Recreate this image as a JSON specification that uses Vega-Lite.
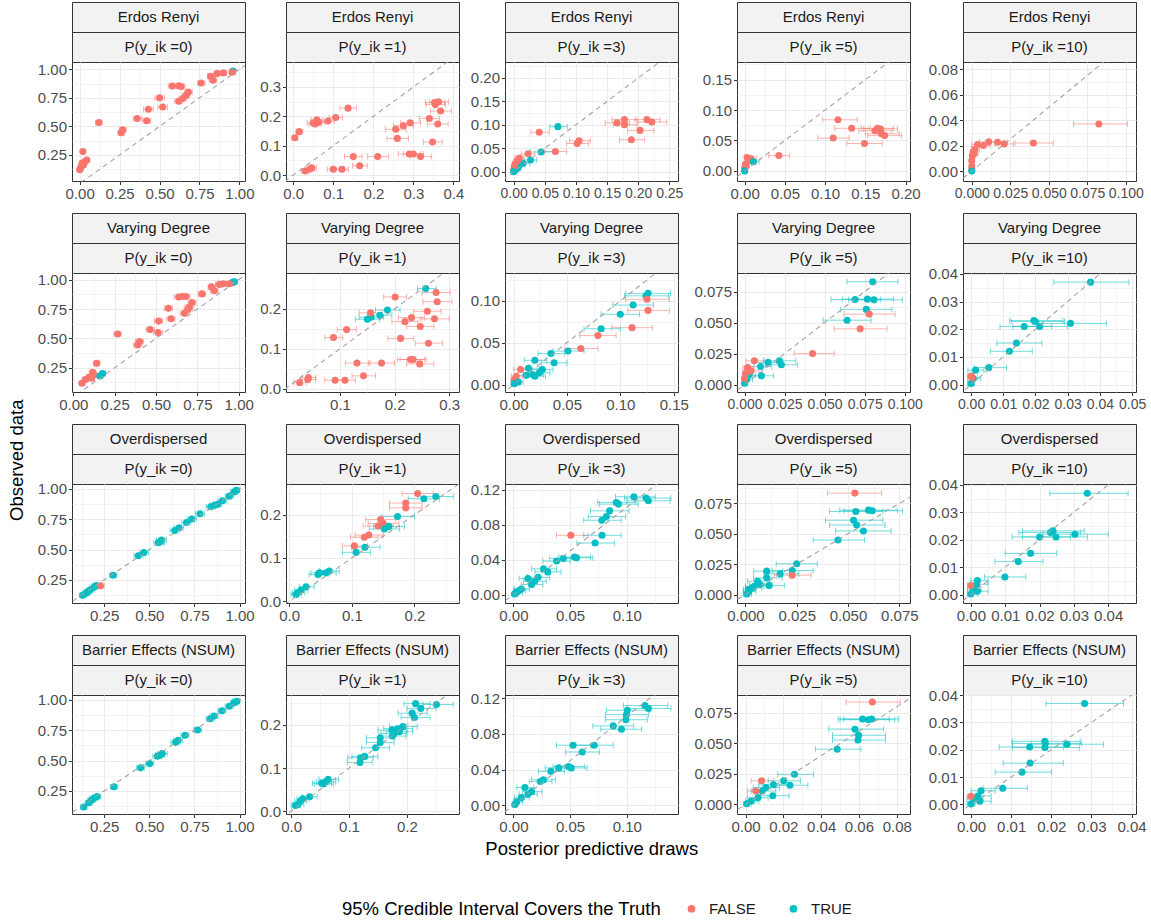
{
"$schema":"https://vega.github.io/schema/vega-lite/v6.json",
"padding":{"left":8,"top":1,"right":0,"bottom":4},
"datasets":{"d":[
{"p":"ER0","x":0.96,"l":0.945,"h":0.975,"y":0.985,"c":"TRUE"},
{"p":"ER0","x":0.955,"l":0.935,"h":0.975,"y":0.975,"c":"FALSE"},
{"p":"ER0","x":0.90,"l":0.88,"h":0.92,"y":0.968,"c":"FALSE"},
{"p":"ER0","x":0.86,"l":0.84,"h":0.885,"y":0.963,"c":"FALSE"},
{"p":"ER0","x":0.82,"l":0.80,"h":0.85,"y":0.94,"c":"FALSE"},
{"p":"ER0","x":0.835,"l":0.81,"h":0.86,"y":0.905,"c":"FALSE"},
{"p":"ER0","x":0.76,"l":0.74,"h":0.785,"y":0.88,"c":"FALSE"},
{"p":"ER0","x":0.58,"l":0.555,"h":0.61,"y":0.853,"c":"FALSE"},
{"p":"ER0","x":0.62,"l":0.595,"h":0.645,"y":0.855,"c":"FALSE"},
{"p":"ER0","x":0.635,"l":0.61,"h":0.66,"y":0.85,"c":"FALSE"},
{"p":"ER0","x":0.68,"l":0.655,"h":0.705,"y":0.80,"c":"FALSE"},
{"p":"ER0","x":0.665,"l":0.64,"h":0.69,"y":0.77,"c":"FALSE"},
{"p":"ER0","x":0.645,"l":0.62,"h":0.67,"y":0.745,"c":"FALSE"},
{"p":"ER0","x":0.62,"l":0.595,"h":0.645,"y":0.72,"c":"FALSE"},
{"p":"ER0","x":0.50,"l":0.47,"h":0.53,"y":0.75,"c":"FALSE"},
{"p":"ER0","x":0.52,"l":0.49,"h":0.55,"y":0.67,"c":"FALSE"},
{"p":"ER0","x":0.43,"l":0.40,"h":0.46,"y":0.65,"c":"FALSE"},
{"p":"ER0","x":0.36,"l":0.335,"h":0.39,"y":0.57,"c":"FALSE"},
{"p":"ER0","x":0.42,"l":0.395,"h":0.445,"y":0.55,"c":"FALSE"},
{"p":"ER0","x":0.12,"l":0.10,"h":0.14,"y":0.535,"c":"FALSE"},
{"p":"ER0","x":0.27,"l":0.25,"h":0.29,"y":0.47,"c":"FALSE"},
{"p":"ER0","x":0.26,"l":0.24,"h":0.28,"y":0.445,"c":"FALSE"},
{"p":"ER0","x":0.02,"l":0.01,"h":0.03,"y":0.28,"c":"FALSE"},
{"p":"ER0","x":0.045,"l":0.035,"h":0.055,"y":0.205,"c":"FALSE"},
{"p":"ER0","x":0.035,"l":0.025,"h":0.045,"y":0.195,"c":"FALSE"},
{"p":"ER0","x":0.015,"l":0.005,"h":0.025,"y":0.18,"c":"FALSE"},
{"p":"ER0","x":0.025,"l":0.015,"h":0.035,"y":0.165,"c":"FALSE"},
{"p":"ER0","x":0.01,"l":0.0,"h":0.02,"y":0.15,"c":"FALSE"},
{"p":"ER0","x":0.005,"l":-0.005,"h":0.015,"y":0.13,"c":"FALSE"},
{"p":"ER0","x":0.0,"l":-0.005,"h":0.01,"y":0.12,"c":"FALSE"},
{"p":"ER1","x":0.004,"l":-0.003,"h":0.011,"y":0.127,"c":"FALSE"},
{"p":"ER1","x":0.015,"l":0.007,"h":0.024,"y":0.148,"c":"FALSE"},
{"p":"ER1","x":0.137,"l":0.117,"h":0.158,"y":0.228,"c":"FALSE"},
{"p":"ER1","x":0.05,"l":0.035,"h":0.066,"y":0.177,"c":"FALSE"},
{"p":"ER1","x":0.059,"l":0.044,"h":0.075,"y":0.188,"c":"FALSE"},
{"p":"ER1","x":0.063,"l":0.047,"h":0.079,"y":0.18,"c":"FALSE"},
{"p":"ER1","x":0.087,"l":0.072,"h":0.103,"y":0.184,"c":"FALSE"},
{"p":"ER1","x":0.106,"l":0.09,"h":0.123,"y":0.196,"c":"FALSE"},
{"p":"ER1","x":0.055,"l":0.04,"h":0.07,"y":0.174,"c":"FALSE"},
{"p":"ER1","x":0.03,"l":0.02,"h":0.04,"y":0.014,"c":"FALSE"},
{"p":"ER1","x":0.046,"l":0.034,"h":0.058,"y":0.025,"c":"FALSE"},
{"p":"ER1","x":0.042,"l":0.03,"h":0.054,"y":0.021,"c":"FALSE"},
{"p":"ER1","x":0.10,"l":0.085,"h":0.115,"y":0.02,"c":"FALSE"},
{"p":"ER1","x":0.122,"l":0.107,"h":0.138,"y":0.02,"c":"FALSE"},
{"p":"ER1","x":0.15,"l":0.128,"h":0.172,"y":0.063,"c":"FALSE"},
{"p":"ER1","x":0.166,"l":0.148,"h":0.185,"y":0.032,"c":"FALSE"},
{"p":"ER1","x":0.211,"l":0.185,"h":0.238,"y":0.063,"c":"FALSE"},
{"p":"ER1","x":0.256,"l":0.23,"h":0.282,"y":0.156,"c":"FALSE"},
{"p":"ER1","x":0.275,"l":0.25,"h":0.30,"y":0.168,"c":"FALSE"},
{"p":"ER1","x":0.292,"l":0.268,"h":0.318,"y":0.178,"c":"FALSE"},
{"p":"ER1","x":0.26,"l":0.234,"h":0.288,"y":0.125,"c":"FALSE"},
{"p":"ER1","x":0.29,"l":0.262,"h":0.318,"y":0.072,"c":"FALSE"},
{"p":"ER1","x":0.30,"l":0.275,"h":0.325,"y":0.072,"c":"FALSE"},
{"p":"ER1","x":0.318,"l":0.292,"h":0.345,"y":0.063,"c":"FALSE"},
{"p":"ER1","x":0.348,"l":0.325,"h":0.372,"y":0.113,"c":"FALSE"},
{"p":"ER1","x":0.34,"l":0.315,"h":0.365,"y":0.193,"c":"FALSE"},
{"p":"ER1","x":0.361,"l":0.335,"h":0.387,"y":0.174,"c":"FALSE"},
{"p":"ER1","x":0.368,"l":0.343,"h":0.395,"y":0.218,"c":"FALSE"},
{"p":"ER1","x":0.353,"l":0.33,"h":0.378,"y":0.247,"c":"FALSE"},
{"p":"ER1","x":0.363,"l":0.34,"h":0.388,"y":0.25,"c":"FALSE"},
{"p":"ER1","x":0.355,"l":0.332,"h":0.38,"y":0.24,"c":"FALSE"},
{"p":"ER3","x":0.041,"l":0.028,"h":0.057,"y":0.084,"c":"FALSE"},
{"p":"ER3","x":0.071,"l":0.058,"h":0.086,"y":0.096,"c":"TRUE"},
{"p":"ER3","x":0.166,"l":0.147,"h":0.186,"y":0.104,"c":"FALSE"},
{"p":"ER3","x":0.178,"l":0.158,"h":0.198,"y":0.111,"c":"FALSE"},
{"p":"ER3","x":0.178,"l":0.16,"h":0.198,"y":0.10,"c":"FALSE"},
{"p":"ER3","x":0.214,"l":0.195,"h":0.235,"y":0.111,"c":"FALSE"},
{"p":"ER3","x":0.222,"l":0.20,"h":0.246,"y":0.106,"c":"FALSE"},
{"p":"ER3","x":0.203,"l":0.183,"h":0.225,"y":0.088,"c":"FALSE"},
{"p":"ER3","x":0.189,"l":0.17,"h":0.21,"y":0.068,"c":"FALSE"},
{"p":"ER3","x":0.102,"l":0.085,"h":0.12,"y":0.06,"c":"FALSE"},
{"p":"ER3","x":0.105,"l":0.09,"h":0.123,"y":0.066,"c":"FALSE"},
{"p":"ER3","x":0.067,"l":0.05,"h":0.085,"y":0.043,"c":"FALSE"},
{"p":"ER3","x":0.044,"l":0.027,"h":0.064,"y":0.042,"c":"TRUE"},
{"p":"ER3","x":0.023,"l":0.012,"h":0.034,"y":0.038,"c":"FALSE"},
{"p":"ER3","x":0.027,"l":0.017,"h":0.037,"y":0.025,"c":"TRUE"},
{"p":"ER3","x":0.015,"l":0.006,"h":0.026,"y":0.018,"c":"TRUE"},
{"p":"ER3","x":0.009,"l":0.002,"h":0.018,"y":0.013,"c":"TRUE"},
{"p":"ER3","x":0.002,"l":-0.002,"h":0.007,"y":0.004,"c":"TRUE"},
{"p":"ER3","x":0.006,"l":0.0,"h":0.012,"y":0.007,"c":"TRUE"},
{"p":"ER3","x":0.009,"l":0.002,"h":0.016,"y":0.029,"c":"FALSE"},
{"p":"ER3","x":0.006,"l":0.0,"h":0.012,"y":0.023,"c":"FALSE"},
{"p":"ER3","x":0.001,"l":-0.002,"h":0.005,"y":0.011,"c":"FALSE"},
{"p":"ER3","x":0.0,"l":-0.002,"h":0.003,"y":0.004,"c":"FALSE"},
{"p":"ER3","x":0.002,"l":-0.001,"h":0.006,"y":0.016,"c":"FALSE"},
{"p":"ER3","x":0.0,"l":-0.001,"h":0.002,"y":0.0,"c":"TRUE"},
{"p":"ER5","x":0.116,"l":0.097,"h":0.14,"y":0.084,"c":"FALSE"},
{"p":"ER5","x":0.133,"l":0.112,"h":0.156,"y":0.070,"c":"FALSE"},
{"p":"ER5","x":0.165,"l":0.145,"h":0.185,"y":0.070,"c":"FALSE"},
{"p":"ER5","x":0.169,"l":0.148,"h":0.19,"y":0.069,"c":"FALSE"},
{"p":"ER5","x":0.162,"l":0.142,"h":0.183,"y":0.066,"c":"FALSE"},
{"p":"ER5","x":0.170,"l":0.15,"h":0.192,"y":0.061,"c":"FALSE"},
{"p":"ER5","x":0.174,"l":0.153,"h":0.195,"y":0.058,"c":"FALSE"},
{"p":"ER5","x":0.11,"l":0.091,"h":0.13,"y":0.054,"c":"FALSE"},
{"p":"ER5","x":0.149,"l":0.127,"h":0.171,"y":0.045,"c":"FALSE"},
{"p":"ER5","x":0.0425,"l":0.03,"h":0.056,"y":0.0254,"c":"FALSE"},
{"p":"ER5","x":0.008,"l":0.002,"h":0.015,"y":0.02,"c":"FALSE"},
{"p":"ER5","x":0.003,"l":0.0,"h":0.008,"y":0.022,"c":"FALSE"},
{"p":"ER5","x":0.001,"l":-0.001,"h":0.004,"y":0.011,"c":"FALSE"},
{"p":"ER5","x":0.0,"l":-0.001,"h":0.002,"y":0.005,"c":"FALSE"},
{"p":"ER5","x":0.0055,"l":0.001,"h":0.01,"y":0.0166,"c":"FALSE"},
{"p":"ER5","x":0.002,"l":0.0,"h":0.005,"y":0.008,"c":"FALSE"},
{"p":"ER5","x":0.011,"l":0.004,"h":0.018,"y":0.015,"c":"TRUE"},
{"p":"ER5","x":0.0,"l":-0.001,"h":0.001,"y":0.0,"c":"TRUE"},
{"p":"ER10","x":0.0825,"l":0.066,"h":0.101,"y":0.0369,"c":"FALSE"},
{"p":"ER10","x":0.040,"l":0.028,"h":0.053,"y":0.022,"c":"FALSE"},
{"p":"ER10","x":0.0075,"l":0.003,"h":0.012,"y":0.020,"c":"FALSE"},
{"p":"ER10","x":0.011,"l":0.005,"h":0.017,"y":0.023,"c":"FALSE"},
{"p":"ER10","x":0.0167,"l":0.011,"h":0.023,"y":0.0226,"c":"FALSE"},
{"p":"ER10","x":0.021,"l":0.015,"h":0.027,"y":0.0213,"c":"FALSE"},
{"p":"ER10","x":0.0037,"l":0.0,"h":0.008,"y":0.0208,"c":"FALSE"},
{"p":"ER10","x":0.0003,"l":-0.001,"h":0.002,"y":0.012,"c":"FALSE"},
{"p":"ER10","x":0.001,"l":-0.001,"h":0.003,"y":0.015,"c":"FALSE"},
{"p":"ER10","x":0.0015,"l":-0.0005,"h":0.004,"y":0.0135,"c":"FALSE"},
{"p":"ER10","x":0.002,"l":0.0,"h":0.005,"y":0.017,"c":"FALSE"},
{"p":"ER10","x":0.0,"l":-0.001,"h":0.001,"y":0.008,"c":"FALSE"},
{"p":"ER10","x":0.0,"l":-0.001,"h":0.001,"y":0.004,"c":"FALSE"},
{"p":"ER10","x":0.0,"l":-0.001,"h":0.001,"y":0.0013,"c":"FALSE"},
{"p":"ER10","x":0.0,"l":-0.001,"h":0.001,"y":0.0,"c":"TRUE"},
{"p":"VD0","x":0.974,"l":0.96,"h":0.99,"y":0.983,"c":"TRUE"},
{"p":"VD0","x":0.964,"l":0.95,"h":0.98,"y":0.977,"c":"TRUE"},
{"p":"VD0","x":0.944,"l":0.925,"h":0.96,"y":0.966,"c":"FALSE"},
{"p":"VD0","x":0.907,"l":0.885,"h":0.93,"y":0.966,"c":"FALSE"},
{"p":"VD0","x":0.883,"l":0.86,"h":0.905,"y":0.96,"c":"FALSE"},
{"p":"VD0","x":0.835,"l":0.815,"h":0.86,"y":0.94,"c":"FALSE"},
{"p":"VD0","x":0.853,"l":0.83,"h":0.875,"y":0.905,"c":"FALSE"},
{"p":"VD0","x":0.778,"l":0.755,"h":0.80,"y":0.879,"c":"FALSE"},
{"p":"VD0","x":0.637,"l":0.61,"h":0.665,"y":0.853,"c":"FALSE"},
{"p":"VD0","x":0.657,"l":0.63,"h":0.685,"y":0.856,"c":"FALSE"},
{"p":"VD0","x":0.681,"l":0.655,"h":0.705,"y":0.856,"c":"FALSE"},
{"p":"VD0","x":0.718,"l":0.695,"h":0.742,"y":0.805,"c":"FALSE"},
{"p":"VD0","x":0.70,"l":0.675,"h":0.725,"y":0.767,"c":"FALSE"},
{"p":"VD0","x":0.694,"l":0.67,"h":0.72,"y":0.747,"c":"FALSE"},
{"p":"VD0","x":0.671,"l":0.645,"h":0.695,"y":0.713,"c":"FALSE"},
{"p":"VD0","x":0.575,"l":0.55,"h":0.60,"y":0.756,"c":"FALSE"},
{"p":"VD0","x":0.591,"l":0.565,"h":0.615,"y":0.667,"c":"FALSE"},
{"p":"VD0","x":0.516,"l":0.49,"h":0.54,"y":0.647,"c":"FALSE"},
{"p":"VD0","x":0.464,"l":0.44,"h":0.49,"y":0.575,"c":"FALSE"},
{"p":"VD0","x":0.512,"l":0.485,"h":0.54,"y":0.549,"c":"FALSE"},
{"p":"VD0","x":0.268,"l":0.245,"h":0.29,"y":0.537,"c":"FALSE"},
{"p":"VD0","x":0.40,"l":0.375,"h":0.425,"y":0.474,"c":"FALSE"},
{"p":"VD0","x":0.389,"l":0.365,"h":0.415,"y":0.443,"c":"FALSE"},
{"p":"VD0","x":0.141,"l":0.125,"h":0.16,"y":0.287,"c":"FALSE"},
{"p":"VD0","x":0.117,"l":0.10,"h":0.135,"y":0.21,"c":"FALSE"},
{"p":"VD0","x":0.097,"l":0.08,"h":0.115,"y":0.17,"c":"FALSE"},
{"p":"VD0","x":0.073,"l":0.055,"h":0.09,"y":0.15,"c":"FALSE"},
{"p":"VD0","x":0.052,"l":0.04,"h":0.07,"y":0.118,"c":"FALSE"},
{"p":"VD0","x":0.125,"l":0.108,"h":0.142,"y":0.19,"c":"FALSE"},
{"p":"VD0","x":0.11,"l":0.095,"h":0.128,"y":0.16,"c":"FALSE"},
{"p":"VD0","x":0.177,"l":0.16,"h":0.195,"y":0.20,"c":"TRUE"},
{"p":"VD0","x":0.161,"l":0.145,"h":0.18,"y":0.18,"c":"TRUE"},
{"p":"VD1","x":0.257,"l":0.242,"h":0.276,"y":0.251,"c":"TRUE"},
{"p":"VD1","x":0.276,"l":0.25,"h":0.302,"y":0.241,"c":"FALSE"},
{"p":"VD1","x":0.278,"l":0.252,"h":0.305,"y":0.218,"c":"FALSE"},
{"p":"VD1","x":0.201,"l":0.18,"h":0.222,"y":0.23,"c":"FALSE"},
{"p":"VD1","x":0.26,"l":0.235,"h":0.285,"y":0.194,"c":"FALSE"},
{"p":"VD1","x":0.273,"l":0.248,"h":0.30,"y":0.175,"c":"FALSE"},
{"p":"VD1","x":0.231,"l":0.207,"h":0.255,"y":0.178,"c":"FALSE"},
{"p":"VD1","x":0.219,"l":0.195,"h":0.243,"y":0.168,"c":"FALSE"},
{"p":"VD1","x":0.247,"l":0.222,"h":0.272,"y":0.156,"c":"FALSE"},
{"p":"VD1","x":0.187,"l":0.165,"h":0.21,"y":0.197,"c":"TRUE"},
{"p":"VD1","x":0.173,"l":0.15,"h":0.195,"y":0.184,"c":"TRUE"},
{"p":"VD1","x":0.15,"l":0.128,"h":0.172,"y":0.174,"c":"TRUE"},
{"p":"VD1","x":0.157,"l":0.135,"h":0.18,"y":0.179,"c":"TRUE"},
{"p":"VD1","x":0.156,"l":0.135,"h":0.178,"y":0.19,"c":"FALSE"},
{"p":"VD1","x":0.112,"l":0.095,"h":0.13,"y":0.148,"c":"FALSE"},
{"p":"VD1","x":0.088,"l":0.072,"h":0.105,"y":0.128,"c":"FALSE"},
{"p":"VD1","x":0.211,"l":0.188,"h":0.235,"y":0.126,"c":"FALSE"},
{"p":"VD1","x":0.262,"l":0.238,"h":0.288,"y":0.114,"c":"FALSE"},
{"p":"VD1","x":0.131,"l":0.11,"h":0.155,"y":0.064,"c":"FALSE"},
{"p":"VD1","x":0.176,"l":0.152,"h":0.20,"y":0.064,"c":"FALSE"},
{"p":"VD1","x":0.229,"l":0.205,"h":0.255,"y":0.073,"c":"FALSE"},
{"p":"VD1","x":0.234,"l":0.21,"h":0.258,"y":0.073,"c":"FALSE"},
{"p":"VD1","x":0.246,"l":0.222,"h":0.272,"y":0.062,"c":"FALSE"},
{"p":"VD1","x":0.143,"l":0.122,"h":0.165,"y":0.032,"c":"FALSE"},
{"p":"VD1","x":0.109,"l":0.09,"h":0.128,"y":0.021,"c":"FALSE"},
{"p":"VD1","x":0.091,"l":0.072,"h":0.11,"y":0.021,"c":"FALSE"},
{"p":"VD1","x":0.041,"l":0.028,"h":0.055,"y":0.023,"c":"FALSE"},
{"p":"VD1","x":0.042,"l":0.03,"h":0.056,"y":0.028,"c":"FALSE"},
{"p":"VD1","x":0.026,"l":0.015,"h":0.038,"y":0.015,"c":"FALSE"},
{"p":"VD3","x":0.126,"l":0.105,"h":0.147,"y":0.109,"c":"TRUE"},
{"p":"VD3","x":0.124,"l":0.104,"h":0.145,"y":0.106,"c":"TRUE"},
{"p":"VD3","x":0.125,"l":0.105,"h":0.146,"y":0.102,"c":"FALSE"},
{"p":"VD3","x":0.112,"l":0.093,"h":0.131,"y":0.095,"c":"TRUE"},
{"p":"VD3","x":0.10,"l":0.082,"h":0.118,"y":0.084,"c":"TRUE"},
{"p":"VD3","x":0.126,"l":0.107,"h":0.146,"y":0.0886,"c":"FALSE"},
{"p":"VD3","x":0.082,"l":0.066,"h":0.10,"y":0.0667,"c":"TRUE"},
{"p":"VD3","x":0.111,"l":0.092,"h":0.13,"y":0.068,"c":"FALSE"},
{"p":"VD3","x":0.079,"l":0.062,"h":0.096,"y":0.0585,"c":"FALSE"},
{"p":"VD3","x":0.063,"l":0.048,"h":0.079,"y":0.043,"c":"FALSE"},
{"p":"VD3","x":0.051,"l":0.037,"h":0.066,"y":0.04,"c":"TRUE"},
{"p":"VD3","x":0.035,"l":0.023,"h":0.048,"y":0.037,"c":"TRUE"},
{"p":"VD3","x":0.038,"l":0.026,"h":0.05,"y":0.026,"c":"TRUE"},
{"p":"VD3","x":0.02,"l":0.01,"h":0.031,"y":0.029,"c":"TRUE"},
{"p":"VD3","x":0.014,"l":0.006,"h":0.024,"y":0.0195,"c":"TRUE"},
{"p":"VD3","x":0.018,"l":0.009,"h":0.028,"y":0.012,"c":"TRUE"},
{"p":"VD3","x":0.024,"l":0.014,"h":0.034,"y":0.014,"c":"TRUE"},
{"p":"VD3","x":0.027,"l":0.017,"h":0.037,"y":0.018,"c":"TRUE"},
{"p":"VD3","x":0.012,"l":0.004,"h":0.021,"y":0.011,"c":"TRUE"},
{"p":"VD3","x":0.02,"l":0.011,"h":0.03,"y":0.01,"c":"TRUE"},
{"p":"VD3","x":0.0066,"l":0.0,"h":0.014,"y":0.018,"c":"FALSE"},
{"p":"VD3","x":0.0025,"l":-0.002,"h":0.008,"y":0.01,"c":"FALSE"},
{"p":"VD3","x":0.0005,"l":-0.002,"h":0.004,"y":0.0053,"c":"FALSE"},
{"p":"VD3","x":0.0005,"l":-0.002,"h":0.003,"y":0.001,"c":"TRUE"},
{"p":"VD3","x":0.0045,"l":0.0,"h":0.009,"y":0.003,"c":"TRUE"},
{"p":"VD5","x":0.08,"l":0.064,"h":0.0958,"y":0.083,"c":"TRUE"},
{"p":"VD5","x":0.069,"l":0.054,"h":0.085,"y":0.0687,"c":"TRUE"},
{"p":"VD5","x":0.0767,"l":0.061,"h":0.093,"y":0.069,"c":"TRUE"},
{"p":"VD5","x":0.0808,"l":0.065,"h":0.0985,"y":0.0684,"c":"TRUE"},
{"p":"VD5","x":0.076,"l":0.06,"h":0.092,"y":0.0607,"c":"TRUE"},
{"p":"VD5","x":0.0778,"l":0.062,"h":0.094,"y":0.0569,"c":"FALSE"},
{"p":"VD5","x":0.064,"l":0.049,"h":0.079,"y":0.052,"c":"TRUE"},
{"p":"VD5","x":0.0722,"l":0.056,"h":0.089,"y":0.045,"c":"FALSE"},
{"p":"VD5","x":0.0425,"l":0.031,"h":0.056,"y":0.025,"c":"FALSE"},
{"p":"VD5","x":0.0217,"l":0.012,"h":0.032,"y":0.0192,"c":"TRUE"},
{"p":"VD5","x":0.023,"l":0.013,"h":0.033,"y":0.016,"c":"TRUE"},
{"p":"VD5","x":0.0147,"l":0.006,"h":0.024,"y":0.0179,"c":"TRUE"},
{"p":"VD5","x":0.01,"l":0.003,"h":0.017,"y":0.0146,"c":"TRUE"},
{"p":"VD5","x":0.0105,"l":0.003,"h":0.018,"y":0.0071,"c":"TRUE"},
{"p":"VD5","x":0.0061,"l":0.001,"h":0.012,"y":0.0192,"c":"FALSE"},
{"p":"VD5","x":0.0019,"l":-0.001,"h":0.006,"y":0.0137,"c":"FALSE"},
{"p":"VD5","x":0.0028,"l":0.0,"h":0.007,"y":0.0077,"c":"TRUE"},
{"p":"VD5","x":0.0,"l":-0.001,"h":0.002,"y":0.001,"c":"TRUE"},
{"p":"VD5","x":0.0014,"l":-0.001,"h":0.005,"y":0.0041,"c":"TRUE"},
{"p":"VD5","x":0.0006,"l":-0.001,"h":0.003,"y":0.009,"c":"FALSE"},
{"p":"VD5","x":0.0,"l":-0.001,"h":0.002,"y":0.005,"c":"FALSE"},
{"p":"VD5","x":0.004,"l":0.0,"h":0.009,"y":0.011,"c":"FALSE"},
{"p":"VD10","x":0.0371,"l":0.0257,"h":0.049,"y":0.037,"c":"TRUE"},
{"p":"VD10","x":0.0195,"l":0.012,"h":0.0285,"y":0.0231,"c":"TRUE"},
{"p":"VD10","x":0.0199,"l":0.0125,"h":0.029,"y":0.0228,"c":"TRUE"},
{"p":"VD10","x":0.0213,"l":0.013,"h":0.03,"y":0.021,"c":"TRUE"},
{"p":"VD10","x":0.0165,"l":0.009,"h":0.025,"y":0.021,"c":"TRUE"},
{"p":"VD10","x":0.0309,"l":0.021,"h":0.042,"y":0.0221,"c":"TRUE"},
{"p":"VD10","x":0.0141,"l":0.008,"h":0.022,"y":0.015,"c":"TRUE"},
{"p":"VD10","x":0.0119,"l":0.006,"h":0.019,"y":0.012,"c":"TRUE"},
{"p":"VD10","x":0.0055,"l":0.001,"h":0.011,"y":0.0061,"c":"TRUE"},
{"p":"VD10","x":0.0014,"l":-0.001,"h":0.004,"y":0.0052,"c":"TRUE"},
{"p":"VD10","x":0.0007,"l":-0.001,"h":0.003,"y":0.0022,"c":"TRUE"},
{"p":"VD10","x":0.0,"l":-0.001,"h":0.001,"y":0.0004,"c":"TRUE"},
{"p":"VD10","x":0.0,"l":-0.001,"h":0.001,"y":0.0031,"c":"FALSE"},
{"p":"VD10","x":0.0003,"l":-0.001,"h":0.002,"y":0.0025,"c":"FALSE"},
{"p":"OD0","x":0.131,"l":0.115,"h":0.15,"y":0.123,"c":"TRUE"},
{"p":"OD0","x":0.15,"l":0.13,"h":0.17,"y":0.14,"c":"TRUE"},
{"p":"OD0","x":0.16,"l":0.14,"h":0.18,"y":0.155,"c":"TRUE"},
{"p":"OD0","x":0.174,"l":0.155,"h":0.195,"y":0.169,"c":"TRUE"},
{"p":"OD0","x":0.193,"l":0.17,"h":0.215,"y":0.19,"c":"TRUE"},
{"p":"OD0","x":0.206,"l":0.185,"h":0.228,"y":0.204,"c":"TRUE"},
{"p":"OD0","x":0.23,"l":0.21,"h":0.25,"y":0.202,"c":"FALSE"},
{"p":"OD0","x":0.30,"l":0.28,"h":0.32,"y":0.288,"c":"TRUE"},
{"p":"OD0","x":0.439,"l":0.415,"h":0.465,"y":0.449,"c":"TRUE"},
{"p":"OD0","x":0.47,"l":0.445,"h":0.495,"y":0.475,"c":"TRUE"},
{"p":"OD0","x":0.55,"l":0.525,"h":0.58,"y":0.556,"c":"TRUE"},
{"p":"OD0","x":0.56,"l":0.535,"h":0.585,"y":0.565,"c":"TRUE"},
{"p":"OD0","x":0.567,"l":0.54,"h":0.595,"y":0.579,"c":"TRUE"},
{"p":"OD0","x":0.641,"l":0.615,"h":0.665,"y":0.657,"c":"TRUE"},
{"p":"OD0","x":0.665,"l":0.64,"h":0.69,"y":0.68,"c":"TRUE"},
{"p":"OD0","x":0.706,"l":0.68,"h":0.73,"y":0.723,"c":"TRUE"},
{"p":"OD0","x":0.735,"l":0.71,"h":0.76,"y":0.752,"c":"TRUE"},
{"p":"OD0","x":0.781,"l":0.755,"h":0.805,"y":0.795,"c":"TRUE"},
{"p":"OD0","x":0.84,"l":0.815,"h":0.865,"y":0.853,"c":"TRUE"},
{"p":"OD0","x":0.86,"l":0.835,"h":0.885,"y":0.865,"c":"TRUE"},
{"p":"OD0","x":0.878,"l":0.855,"h":0.90,"y":0.873,"c":"TRUE"},
{"p":"OD0","x":0.905,"l":0.88,"h":0.93,"y":0.902,"c":"TRUE"},
{"p":"OD0","x":0.943,"l":0.92,"h":0.965,"y":0.94,"c":"TRUE"},
{"p":"OD0","x":0.97,"l":0.95,"h":0.99,"y":0.974,"c":"TRUE"},
{"p":"OD0","x":0.983,"l":0.965,"h":1.0,"y":0.988,"c":"TRUE"},
{"p":"OD1","x":0.205,"l":0.18,"h":0.23,"y":0.249,"c":"FALSE"},
{"p":"OD1","x":0.234,"l":0.205,"h":0.262,"y":0.242,"c":"TRUE"},
{"p":"OD1","x":0.215,"l":0.19,"h":0.24,"y":0.237,"c":"TRUE"},
{"p":"OD1","x":0.186,"l":0.16,"h":0.212,"y":0.227,"c":"FALSE"},
{"p":"OD1","x":0.186,"l":0.16,"h":0.212,"y":0.216,"c":"FALSE"},
{"p":"OD1","x":0.173,"l":0.148,"h":0.20,"y":0.196,"c":"TRUE"},
{"p":"OD1","x":0.146,"l":0.122,"h":0.17,"y":0.189,"c":"FALSE"},
{"p":"OD1","x":0.150,"l":0.126,"h":0.175,"y":0.18,"c":"FALSE"},
{"p":"OD1","x":0.142,"l":0.118,"h":0.166,"y":0.174,"c":"FALSE"},
{"p":"OD1","x":0.159,"l":0.135,"h":0.184,"y":0.173,"c":"TRUE"},
{"p":"OD1","x":0.152,"l":0.128,"h":0.176,"y":0.167,"c":"TRUE"},
{"p":"OD1","x":0.127,"l":0.105,"h":0.15,"y":0.153,"c":"FALSE"},
{"p":"OD1","x":0.12,"l":0.098,"h":0.142,"y":0.148,"c":"FALSE"},
{"p":"OD1","x":0.104,"l":0.085,"h":0.125,"y":0.128,"c":"FALSE"},
{"p":"OD1","x":0.121,"l":0.10,"h":0.145,"y":0.125,"c":"TRUE"},
{"p":"OD1","x":0.107,"l":0.085,"h":0.13,"y":0.113,"c":"TRUE"},
{"p":"OD1","x":0.0486,"l":0.035,"h":0.065,"y":0.066,"c":"TRUE"},
{"p":"OD1","x":0.046,"l":0.032,"h":0.062,"y":0.062,"c":"TRUE"},
{"p":"OD1","x":0.064,"l":0.048,"h":0.08,"y":0.07,"c":"TRUE"},
{"p":"OD1","x":0.059,"l":0.044,"h":0.075,"y":0.066,"c":"TRUE"},
{"p":"OD1","x":0.0135,"l":0.005,"h":0.025,"y":0.0195,"c":"TRUE"},
{"p":"OD1","x":0.019,"l":0.009,"h":0.03,"y":0.026,"c":"TRUE"},
{"p":"OD1","x":0.027,"l":0.016,"h":0.04,"y":0.0335,"c":"TRUE"},
{"p":"OD1","x":0.011,"l":0.003,"h":0.02,"y":0.0156,"c":"TRUE"},
{"p":"OD3","x":0.1062,"l":0.09,"h":0.125,"y":0.112,"c":"TRUE"},
{"p":"OD3","x":0.117,"l":0.098,"h":0.139,"y":0.1105,"c":"TRUE"},
{"p":"OD3","x":0.119,"l":0.10,"h":0.138,"y":0.1074,"c":"TRUE"},
{"p":"OD3","x":0.0907,"l":0.074,"h":0.108,"y":0.1055,"c":"TRUE"},
{"p":"OD3","x":0.0926,"l":0.076,"h":0.11,"y":0.1036,"c":"TRUE"},
{"p":"OD3","x":0.0848,"l":0.068,"h":0.102,"y":0.0959,"c":"TRUE"},
{"p":"OD3","x":0.082,"l":0.066,"h":0.099,"y":0.0894,"c":"TRUE"},
{"p":"OD3","x":0.078,"l":0.062,"h":0.095,"y":0.0851,"c":"TRUE"},
{"p":"OD3","x":0.0506,"l":0.038,"h":0.066,"y":0.0679,"c":"FALSE"},
{"p":"OD3","x":0.0782,"l":0.062,"h":0.095,"y":0.0679,"c":"TRUE"},
{"p":"OD3","x":0.072,"l":0.056,"h":0.089,"y":0.059,"c":"TRUE"},
{"p":"OD3","x":0.0537,"l":0.04,"h":0.068,"y":0.043,"c":"TRUE"},
{"p":"OD3","x":0.0556,"l":0.042,"h":0.07,"y":0.0422,"c":"TRUE"},
{"p":"OD3","x":0.044,"l":0.032,"h":0.057,"y":0.0414,"c":"TRUE"},
{"p":"OD3","x":0.0381,"l":0.026,"h":0.05,"y":0.0384,"c":"TRUE"},
{"p":"OD3","x":0.0265,"l":0.016,"h":0.038,"y":0.0295,"c":"TRUE"},
{"p":"OD3","x":0.0303,"l":0.019,"h":0.042,"y":0.026,"c":"TRUE"},
{"p":"OD3","x":0.0218,"l":0.012,"h":0.032,"y":0.0199,"c":"TRUE"},
{"p":"OD3","x":0.0128,"l":0.005,"h":0.022,"y":0.0184,"c":"TRUE"},
{"p":"OD3","x":0.0187,"l":0.009,"h":0.029,"y":0.0153,"c":"TRUE"},
{"p":"OD3","x":0.016,"l":0.007,"h":0.026,"y":0.0115,"c":"TRUE"},
{"p":"OD3","x":0.007,"l":0.001,"h":0.014,"y":0.0065,"c":"TRUE"},
{"p":"OD3","x":0.003,"l":0.0,"h":0.008,"y":0.003,"c":"TRUE"},
{"p":"OD3","x":0.005,"l":0.0,"h":0.011,"y":0.0046,"c":"TRUE"},
{"p":"OD3","x":0.001,"l":-0.001,"h":0.004,"y":0.0008,"c":"TRUE"},
{"p":"OD5","x":0.0533,"l":0.04,"h":0.0664,"y":0.0835,"c":"FALSE"},
{"p":"OD5","x":0.0538,"l":0.041,"h":0.067,"y":0.0684,"c":"TRUE"},
{"p":"OD5","x":0.06,"l":0.046,"h":0.074,"y":0.0695,"c":"TRUE"},
{"p":"OD5","x":0.0618,"l":0.048,"h":0.0765,"y":0.069,"c":"TRUE"},
{"p":"OD5","x":0.0527,"l":0.039,"h":0.067,"y":0.0612,"c":"TRUE"},
{"p":"OD5","x":0.0542,"l":0.041,"h":0.068,"y":0.0573,"c":"TRUE"},
{"p":"OD5","x":0.0575,"l":0.044,"h":0.071,"y":0.0524,"c":"TRUE"},
{"p":"OD5","x":0.0451,"l":0.033,"h":0.058,"y":0.0449,"c":"TRUE"},
{"p":"OD5","x":0.025,"l":0.015,"h":0.035,"y":0.0254,"c":"TRUE"},
{"p":"OD5","x":0.0228,"l":0.013,"h":0.033,"y":0.0198,"c":"TRUE"},
{"p":"OD5","x":0.0228,"l":0.014,"h":0.032,"y":0.016,"c":"FALSE"},
{"p":"OD5","x":0.0169,"l":0.009,"h":0.026,"y":0.0171,"c":"TRUE"},
{"p":"OD5","x":0.0104,"l":0.004,"h":0.018,"y":0.0193,"c":"TRUE"},
{"p":"OD5","x":0.0104,"l":0.004,"h":0.018,"y":0.0138,"c":"TRUE"},
{"p":"OD5","x":0.0115,"l":0.005,"h":0.019,"y":0.0074,"c":"TRUE"},
{"p":"OD5","x":0.006,"l":0.001,"h":0.012,"y":0.011,"c":"TRUE"},
{"p":"OD5","x":0.0035,"l":0.0,"h":0.008,"y":0.0055,"c":"TRUE"},
{"p":"OD5","x":0.0017,"l":-0.001,"h":0.005,"y":0.0028,"c":"TRUE"},
{"p":"OD5","x":0.0007,"l":-0.001,"h":0.003,"y":0.0005,"c":"TRUE"},
{"p":"OD5","x":0.007,"l":0.002,"h":0.013,"y":0.0083,"c":"TRUE"},
{"p":"OD5","x":0.0043,"l":0.0,"h":0.009,"y":0.0069,"c":"TRUE"},
{"p":"OD5","x":0.0017,"l":-0.001,"h":0.005,"y":0.0044,"c":"TRUE"},
{"p":"OD10","x":0.0339,"l":0.023,"h":0.0458,"y":0.0369,"c":"TRUE"},
{"p":"OD10","x":0.0239,"l":0.015,"h":0.033,"y":0.0232,"c":"TRUE"},
{"p":"OD10","x":0.0232,"l":0.014,"h":0.032,"y":0.0226,"c":"TRUE"},
{"p":"OD10","x":0.0248,"l":0.015,"h":0.034,"y":0.021,"c":"TRUE"},
{"p":"OD10","x":0.02,"l":0.012,"h":0.029,"y":0.021,"c":"TRUE"},
{"p":"OD10","x":0.0303,"l":0.021,"h":0.04,"y":0.022,"c":"TRUE"},
{"p":"OD10","x":0.0174,"l":0.01,"h":0.025,"y":0.015,"c":"TRUE"},
{"p":"OD10","x":0.0138,"l":0.007,"h":0.021,"y":0.012,"c":"TRUE"},
{"p":"OD10","x":0.0099,"l":0.004,"h":0.016,"y":0.0064,"c":"TRUE"},
{"p":"OD10","x":0.0019,"l":0.0,"h":0.005,"y":0.0051,"c":"TRUE"},
{"p":"OD10","x":0.0017,"l":0.0,"h":0.005,"y":0.0037,"c":"TRUE"},
{"p":"OD10","x":0.0006,"l":-0.001,"h":0.003,"y":0.0018,"c":"TRUE"},
{"p":"OD10","x":0.0,"l":-0.001,"h":0.002,"y":0.0002,"c":"TRUE"},
{"p":"OD10","x":0.0019,"l":0.0,"h":0.005,"y":0.0012,"c":"TRUE"},
{"p":"OD10","x":0.0,"l":-0.001,"h":0.001,"y":0.0033,"c":"FALSE"},
{"p":"BE0","x":0.137,"l":0.12,"h":0.155,"y":0.117,"c":"TRUE"},
{"p":"BE0","x":0.165,"l":0.145,"h":0.185,"y":0.152,"c":"TRUE"},
{"p":"BE0","x":0.18,"l":0.16,"h":0.20,"y":0.175,"c":"TRUE"},
{"p":"BE0","x":0.193,"l":0.17,"h":0.215,"y":0.19,"c":"TRUE"},
{"p":"BE0","x":0.211,"l":0.19,"h":0.232,"y":0.204,"c":"TRUE"},
{"p":"BE0","x":0.304,"l":0.285,"h":0.325,"y":0.285,"c":"TRUE"},
{"p":"BE0","x":0.452,"l":0.43,"h":0.475,"y":0.44,"c":"TRUE"},
{"p":"BE0","x":0.502,"l":0.48,"h":0.525,"y":0.475,"c":"TRUE"},
{"p":"BE0","x":0.544,"l":0.52,"h":0.57,"y":0.535,"c":"TRUE"},
{"p":"BE0","x":0.56,"l":0.535,"h":0.585,"y":0.545,"c":"TRUE"},
{"p":"BE0","x":0.572,"l":0.545,"h":0.60,"y":0.558,"c":"TRUE"},
{"p":"BE0","x":0.646,"l":0.62,"h":0.67,"y":0.65,"c":"TRUE"},
{"p":"BE0","x":0.66,"l":0.635,"h":0.685,"y":0.668,"c":"TRUE"},
{"p":"BE0","x":0.698,"l":0.675,"h":0.72,"y":0.709,"c":"TRUE"},
{"p":"BE0","x":0.767,"l":0.745,"h":0.79,"y":0.752,"c":"TRUE"},
{"p":"BE0","x":0.837,"l":0.815,"h":0.86,"y":0.844,"c":"TRUE"},
{"p":"BE0","x":0.859,"l":0.835,"h":0.88,"y":0.867,"c":"TRUE"},
{"p":"BE0","x":0.902,"l":0.88,"h":0.925,"y":0.91,"c":"TRUE"},
{"p":"BE0","x":0.943,"l":0.92,"h":0.965,"y":0.948,"c":"TRUE"},
{"p":"BE0","x":0.97,"l":0.95,"h":0.99,"y":0.977,"c":"TRUE"},
{"p":"BE0","x":0.985,"l":0.965,"h":1.0,"y":0.988,"c":"TRUE"},
{"p":"BE1","x":0.215,"l":0.195,"h":0.24,"y":0.249,"c":"TRUE"},
{"p":"BE1","x":0.224,"l":0.20,"h":0.25,"y":0.238,"c":"TRUE"},
{"p":"BE1","x":0.251,"l":0.228,"h":0.28,"y":0.247,"c":"TRUE"},
{"p":"BE1","x":0.209,"l":0.185,"h":0.235,"y":0.227,"c":"TRUE"},
{"p":"BE1","x":0.213,"l":0.19,"h":0.24,"y":0.217,"c":"TRUE"},
{"p":"BE1","x":0.174,"l":0.15,"h":0.20,"y":0.188,"c":"TRUE"},
{"p":"BE1","x":0.184,"l":0.16,"h":0.21,"y":0.191,"c":"TRUE"},
{"p":"BE1","x":0.193,"l":0.17,"h":0.218,"y":0.196,"c":"TRUE"},
{"p":"BE1","x":0.178,"l":0.155,"h":0.20,"y":0.18,"c":"TRUE"},
{"p":"BE1","x":0.175,"l":0.152,"h":0.198,"y":0.174,"c":"TRUE"},
{"p":"BE1","x":0.187,"l":0.164,"h":0.21,"y":0.184,"c":"TRUE"},
{"p":"BE1","x":0.154,"l":0.13,"h":0.178,"y":0.17,"c":"TRUE"},
{"p":"BE1","x":0.154,"l":0.13,"h":0.178,"y":0.159,"c":"TRUE"},
{"p":"BE1","x":0.146,"l":0.122,"h":0.17,"y":0.147,"c":"TRUE"},
{"p":"BE1","x":0.127,"l":0.105,"h":0.15,"y":0.127,"c":"TRUE"},
{"p":"BE1","x":0.12,"l":0.098,"h":0.142,"y":0.124,"c":"TRUE"},
{"p":"BE1","x":0.119,"l":0.097,"h":0.14,"y":0.113,"c":"TRUE"},
{"p":"BE1","x":0.053,"l":0.037,"h":0.07,"y":0.065,"c":"TRUE"},
{"p":"BE1","x":0.06,"l":0.044,"h":0.077,"y":0.068,"c":"TRUE"},
{"p":"BE1","x":0.064,"l":0.048,"h":0.082,"y":0.074,"c":"TRUE"},
{"p":"BE1","x":0.056,"l":0.04,"h":0.073,"y":0.063,"c":"TRUE"},
{"p":"BE1","x":0.016,"l":0.006,"h":0.027,"y":0.0235,"c":"TRUE"},
{"p":"BE1","x":0.02,"l":0.01,"h":0.031,"y":0.029,"c":"TRUE"},
{"p":"BE1","x":0.032,"l":0.02,"h":0.045,"y":0.0337,"c":"TRUE"},
{"p":"BE1","x":0.012,"l":0.003,"h":0.022,"y":0.0157,"c":"TRUE"},
{"p":"BE1","x":0.0076,"l":0.0,"h":0.016,"y":0.0133,"c":"TRUE"},
{"p":"BE3","x":0.116,"l":0.097,"h":0.136,"y":0.112,"c":"TRUE"},
{"p":"BE3","x":0.119,"l":0.10,"h":0.139,"y":0.1086,"c":"TRUE"},
{"p":"BE3","x":0.1004,"l":0.082,"h":0.12,"y":0.1067,"c":"TRUE"},
{"p":"BE3","x":0.0996,"l":0.081,"h":0.119,"y":0.1017,"c":"TRUE"},
{"p":"BE3","x":0.0992,"l":0.081,"h":0.118,"y":0.096,"c":"TRUE"},
{"p":"BE3","x":0.088,"l":0.07,"h":0.106,"y":0.0891,"c":"TRUE"},
{"p":"BE3","x":0.0953,"l":0.077,"h":0.113,"y":0.0853,"c":"TRUE"},
{"p":"BE3","x":0.0525,"l":0.038,"h":0.068,"y":0.0674,"c":"TRUE"},
{"p":"BE3","x":0.0712,"l":0.055,"h":0.088,"y":0.0674,"c":"TRUE"},
{"p":"BE3","x":0.0607,"l":0.046,"h":0.076,"y":0.0598,"c":"TRUE"},
{"p":"BE3","x":0.0486,"l":0.035,"h":0.063,"y":0.0434,"c":"TRUE"},
{"p":"BE3","x":0.051,"l":0.037,"h":0.065,"y":0.0419,"c":"TRUE"},
{"p":"BE3","x":0.04,"l":0.028,"h":0.053,"y":0.0419,"c":"TRUE"},
{"p":"BE3","x":0.033,"l":0.022,"h":0.045,"y":0.038,"c":"TRUE"},
{"p":"BE3","x":0.0265,"l":0.016,"h":0.037,"y":0.0286,"c":"TRUE"},
{"p":"BE3","x":0.0237,"l":0.014,"h":0.034,"y":0.0267,"c":"TRUE"},
{"p":"BE3","x":0.0101,"l":0.003,"h":0.018,"y":0.0198,"c":"TRUE"},
{"p":"BE3","x":0.016,"l":0.008,"h":0.025,"y":0.0152,"c":"TRUE"},
{"p":"BE3","x":0.0128,"l":0.005,"h":0.021,"y":0.0122,"c":"TRUE"},
{"p":"BE3","x":0.007,"l":0.001,"h":0.014,"y":0.0084,"c":"TRUE"},
{"p":"BE3","x":0.003,"l":0.0,"h":0.008,"y":0.0038,"c":"TRUE"},
{"p":"BE3","x":0.0012,"l":-0.001,"h":0.004,"y":0.0008,"c":"TRUE"},
{"p":"BE5","x":0.0671,"l":0.0532,"h":0.0819,"y":0.0839,"c":"FALSE"},
{"p":"BE5","x":0.0619,"l":0.049,"h":0.076,"y":0.07,"c":"TRUE"},
{"p":"BE5","x":0.065,"l":0.05,"h":0.079,"y":0.0694,"c":"TRUE"},
{"p":"BE5","x":0.0668,"l":0.052,"h":0.081,"y":0.07,"c":"TRUE"},
{"p":"BE5","x":0.0579,"l":0.044,"h":0.073,"y":0.0617,"c":"TRUE"},
{"p":"BE5","x":0.0598,"l":0.046,"h":0.074,"y":0.0567,"c":"TRUE"},
{"p":"BE5","x":0.0595,"l":0.046,"h":0.074,"y":0.0528,"c":"TRUE"},
{"p":"BE5","x":0.0485,"l":0.037,"h":0.061,"y":0.0453,"c":"TRUE"},
{"p":"BE5","x":0.0259,"l":0.017,"h":0.036,"y":0.0247,"c":"TRUE"},
{"p":"BE5","x":0.0202,"l":0.012,"h":0.029,"y":0.0194,"c":"TRUE"},
{"p":"BE5","x":0.0235,"l":0.015,"h":0.033,"y":0.0158,"c":"TRUE"},
{"p":"BE5","x":0.0148,"l":0.007,"h":0.023,"y":0.0161,"c":"TRUE"},
{"p":"BE5","x":0.0144,"l":0.007,"h":0.023,"y":0.0072,"c":"TRUE"},
{"p":"BE5","x":0.0089,"l":0.003,"h":0.016,"y":0.011,"c":"TRUE"},
{"p":"BE5","x":0.0066,"l":0.001,"h":0.012,"y":0.0056,"c":"TRUE"},
{"p":"BE5","x":0.0031,"l":0.0,"h":0.007,"y":0.0028,"c":"TRUE"},
{"p":"BE5","x":0.0007,"l":-0.001,"h":0.003,"y":0.0006,"c":"TRUE"},
{"p":"BE5","x":0.0108,"l":0.004,"h":0.018,"y":0.0139,"c":"TRUE"},
{"p":"BE5","x":0.0085,"l":0.003,"h":0.015,"y":0.0194,"c":"FALSE"},
{"p":"BE5","x":0.0054,"l":0.001,"h":0.01,"y":0.011,"c":"FALSE"},
{"p":"BE10","x":0.0283,"l":0.0187,"h":0.038,"y":0.0369,"c":"TRUE"},
{"p":"BE10","x":0.0184,"l":0.0102,"h":0.0272,"y":0.0231,"c":"TRUE"},
{"p":"BE10","x":0.0185,"l":0.0103,"h":0.0275,"y":0.0223,"c":"TRUE"},
{"p":"BE10","x":0.0184,"l":0.0103,"h":0.027,"y":0.0208,"c":"TRUE"},
{"p":"BE10","x":0.0146,"l":0.007,"h":0.023,"y":0.021,"c":"TRUE"},
{"p":"BE10","x":0.0239,"l":0.015,"h":0.033,"y":0.022,"c":"TRUE"},
{"p":"BE10","x":0.0147,"l":0.008,"h":0.023,"y":0.0151,"c":"TRUE"},
{"p":"BE10","x":0.0127,"l":0.006,"h":0.02,"y":0.0118,"c":"TRUE"},
{"p":"BE10","x":0.0079,"l":0.003,"h":0.014,"y":0.0059,"c":"TRUE"},
{"p":"BE10","x":0.0025,"l":0.0,"h":0.006,"y":0.005,"c":"TRUE"},
{"p":"BE10","x":0.0017,"l":-0.0005,"h":0.005,"y":0.0031,"c":"TRUE"},
{"p":"BE10","x":0.0008,"l":-0.001,"h":0.003,"y":0.0019,"c":"TRUE"},
{"p":"BE10","x":0.0,"l":-0.001,"h":0.001,"y":0.0002,"c":"TRUE"},
{"p":"BE10","x":0.0022,"l":0.0,"h":0.005,"y":0.0012,"c":"TRUE"},
{"p":"BE10","x":0.0,"l":-0.001,"h":0.001,"y":0.003,"c":"FALSE"}
]},
"title":{"text":"Observed data","orient":"left","anchor":"middle","fontSize":18.5,"fontWeight":"normal","color":"#000000","offset":10},
"resolve":{"scale":{"x":"independent","y":"independent","color":"shared"},"legend":{"color":"shared"}},
"vconcat":[{
"title":{"text":"Posterior predictive draws","orient":"bottom","anchor":"middle","fontSize":18.5,"fontWeight":"normal","color":"#000000","offset":5},
"columns":5,
"spacing":{"row":10,"column":4},
"resolve":{"scale":{"x":"independent","y":"independent","color":"shared"},"legend":{"color":"shared"}},
"concat":[
{"spacing":0,"bounds":"flush","resolve":{"scale":{"x":"independent","y":"independent","color":"shared"},"legend":{"color":"shared"}},"vconcat":[
{"width":173,"height":30,"data":{"values":[{"t":"Erdos Renyi"}]},"mark":{"type":"text","fontSize":15,"color":"#1A1A1A","fontWeight":"normal"},"encoding":{"text":{"field":"t"}},"view":{"fill":"#F2F2F2","stroke":"#333333"}},
{"width":173,"height":30,"data":{"values":[{"t":"P(y_ik =0)"}]},"mark":{"type":"text","fontSize":15,"color":"#1A1A1A","fontWeight":"normal"},"encoding":{"text":{"field":"t"}},"view":{"fill":"#F2F2F2","stroke":"#333333"}},
{"width":173,"height":119,"data":{"name":"d"},"transform":[{"filter":"datum.p=='ER0'"}],"resolve":{"axis":{"x":"independent"}},
"encoding":{"y":{"field":"y","type":"quantitative","title":null,"scale":{"domain":[0.022,1.064],"nice":false,"zero":false},"axis":{"labelOverlap":false,"values":[0.125,0.25,0.375,0.5,0.625,0.75,0.875,1],"labelExpr":"abs(datum.value/0.25-round(datum.value/0.25))>0.01?'':format(datum.value,'.2f')","gridWidth":{"condition":{"test":"abs(datum.value/0.25-round(datum.value/0.25))>0.01","value":0.55},"value":1.1},"tickOpacity":{"condition":{"test":"abs(datum.value/0.25-round(datum.value/0.25))>0.01","value":0},"value":1}}}},
"layer":[
{"mark":{"type":"rule","opacity":0.55},"encoding":{"x":{"field":"l","type":"quantitative","title":null,"scale":{"domain":[-0.048,1.035],"nice":false,"zero":false},"axis":{"orient":"bottom","values":[0,0.25,0.5,0.75,1],"format":".2f","gridWidth":1.1,"labelOverlap":false}},"x2":{"field":"h"},"color":{"condition":{"test":"datum.c=='TRUE'","value":"#00BFC4"},"value":"#F8766D"}}},
{"transform":[{"fold":["l","h"],"as":["k","v"]}],"mark":{"type":"tick","orient":"vertical","size":6,"thickness":1,"opacity":0.55},"encoding":{"x":{"field":"v","type":"quantitative","title":null,"axis":null},"color":{"condition":{"test":"datum.c=='TRUE'","value":"#00BFC4"},"value":"#F8766D"}}},
{"mark":{"type":"point","filled":true,"opacity":1,"size":50},"encoding":{"x":{"field":"x","type":"quantitative","title":null,"axis":{"orient":"top","values":[0.125,0.375,0.625,0.875],"labels":false,"ticks":false,"domain":false,"grid":true,"gridWidth":0.55}},"color":{"field":"c","type":"nominal","title":"95% Credible Interval Covers the Truth","scale":{"domain":["FALSE","TRUE"]},"legend":{"orient":"none","legendX":270,"legendY":899,"direction":"horizontal","titleOrient":"left"}}}},
{"data":{"values":[{"p":"ER0","a":-1,"b":2}]},"mark":{"type":"rule","color":"#A3A3A3","strokeWidth":1.1,"strokeDash":[5,4],"clip":true},"encoding":{"x":{"field":"a","type":"quantitative","title":null,"axis":null},"y":{"field":"a","type":"quantitative","title":null},"x2":{"field":"b"},"y2":{"field":"b"}}}
]}]},
{"spacing":0,"bounds":"flush","resolve":{"scale":{"x":"independent","y":"independent","color":"shared"},"legend":{"color":"shared"}},"vconcat":[
{"width":173,"height":30,"data":{"values":[{"t":"Erdos Renyi"}]},"mark":{"type":"text","fontSize":15,"color":"#1A1A1A","fontWeight":"normal"},"encoding":{"text":{"field":"t"}},"view":{"fill":"#F2F2F2","stroke":"#333333"}},
{"width":173,"height":30,"data":{"values":[{"t":"P(y_ik =1)"}]},"mark":{"type":"text","fontSize":15,"color":"#1A1A1A","fontWeight":"normal"},"encoding":{"text":{"field":"t"}},"view":{"fill":"#F2F2F2","stroke":"#333333"}},
{"width":173,"height":119,"data":{"name":"d"},"transform":[{"filter":"datum.p=='ER1'"}],"resolve":{"axis":{"x":"independent"}},
"encoding":{"y":{"field":"y","type":"quantitative","title":null,"scale":{"domain":[-0.02,0.385],"nice":false,"zero":false},"axis":{"labelOverlap":false,"values":[0,0.05,0.1,0.15,0.2,0.25,0.3,0.35],"labelExpr":"abs(datum.value/0.1-round(datum.value/0.1))>0.01?'':format(datum.value,'.1f')","gridWidth":{"condition":{"test":"abs(datum.value/0.1-round(datum.value/0.1))>0.01","value":0.55},"value":1.1},"tickOpacity":{"condition":{"test":"abs(datum.value/0.1-round(datum.value/0.1))>0.01","value":0},"value":1}}}},
"layer":[
{"mark":{"type":"rule","opacity":0.55},"encoding":{"x":{"field":"l","type":"quantitative","title":null,"scale":{"domain":[-0.018,0.414],"nice":false,"zero":false},"axis":{"orient":"bottom","values":[0,0.1,0.2,0.3,0.4],"format":".1f","gridWidth":1.1,"labelOverlap":false}},"x2":{"field":"h"},"color":{"condition":{"test":"datum.c=='TRUE'","value":"#00BFC4"},"value":"#F8766D"}}},
{"transform":[{"fold":["l","h"],"as":["k","v"]}],"mark":{"type":"tick","orient":"vertical","size":6,"thickness":1,"opacity":0.55},"encoding":{"x":{"field":"v","type":"quantitative","title":null,"axis":null},"color":{"condition":{"test":"datum.c=='TRUE'","value":"#00BFC4"},"value":"#F8766D"}}},
{"mark":{"type":"point","filled":true,"opacity":1,"size":50},"encoding":{"x":{"field":"x","type":"quantitative","title":null,"axis":{"orient":"top","values":[0.05,0.15,0.25,0.35],"labels":false,"ticks":false,"domain":false,"grid":true,"gridWidth":0.55}},"color":{"field":"c","type":"nominal","title":"95% Credible Interval Covers the Truth","scale":{"domain":["FALSE","TRUE"]},"legend":{"orient":"none","legendX":270,"legendY":899,"direction":"horizontal","titleOrient":"left"}}}},
{"data":{"values":[{"p":"ER1","a":-1,"b":2}]},"mark":{"type":"rule","color":"#A3A3A3","strokeWidth":1.1,"strokeDash":[5,4],"clip":true},"encoding":{"x":{"field":"a","type":"quantitative","title":null,"axis":null},"y":{"field":"a","type":"quantitative","title":null},"x2":{"field":"b"},"y2":{"field":"b"}}}
]}]},
{"spacing":0,"bounds":"flush","resolve":{"scale":{"x":"independent","y":"independent","color":"shared"},"legend":{"color":"shared"}},"vconcat":[
{"width":173,"height":30,"data":{"values":[{"t":"Erdos Renyi"}]},"mark":{"type":"text","fontSize":15,"color":"#1A1A1A","fontWeight":"normal"},"encoding":{"text":{"field":"t"}},"view":{"fill":"#F2F2F2","stroke":"#333333"}},
{"width":173,"height":30,"data":{"values":[{"t":"P(y_ik =3)"}]},"mark":{"type":"text","fontSize":15,"color":"#1A1A1A","fontWeight":"normal"},"encoding":{"text":{"field":"t"}},"view":{"fill":"#F2F2F2","stroke":"#333333"}},
{"width":173,"height":119,"data":{"name":"d"},"transform":[{"filter":"datum.p=='ER3'"}],"resolve":{"axis":{"x":"independent"}},
"encoding":{"y":{"field":"y","type":"quantitative","title":null,"scale":{"domain":[-0.02,0.234],"nice":false,"zero":false},"axis":{"labelOverlap":false,"values":[0,0.025,0.05,0.075,0.1,0.125,0.15,0.175,0.2,0.225],"labelExpr":"abs(datum.value/0.05-round(datum.value/0.05))>0.01?'':format(datum.value,'.2f')","gridWidth":{"condition":{"test":"abs(datum.value/0.05-round(datum.value/0.05))>0.01","value":0.55},"value":1.1},"tickOpacity":{"condition":{"test":"abs(datum.value/0.05-round(datum.value/0.05))>0.01","value":0},"value":1}}}},
"layer":[
{"mark":{"type":"rule","opacity":0.55},"encoding":{"x":{"field":"l","type":"quantitative","title":null,"scale":{"domain":[-0.014,0.264],"nice":false,"zero":false},"axis":{"orient":"bottom","values":[0,0.05,0.1,0.15,0.2,0.25],"format":".2f","gridWidth":1.1,"labelOverlap":false,"labelFontSize":14}},"x2":{"field":"h"},"color":{"condition":{"test":"datum.c=='TRUE'","value":"#00BFC4"},"value":"#F8766D"}}},
{"transform":[{"fold":["l","h"],"as":["k","v"]}],"mark":{"type":"tick","orient":"vertical","size":6,"thickness":1,"opacity":0.55},"encoding":{"x":{"field":"v","type":"quantitative","title":null,"axis":null},"color":{"condition":{"test":"datum.c=='TRUE'","value":"#00BFC4"},"value":"#F8766D"}}},
{"mark":{"type":"point","filled":true,"opacity":1,"size":50},"encoding":{"x":{"field":"x","type":"quantitative","title":null,"axis":{"orient":"top","values":[0.025,0.075,0.125,0.175,0.225],"labels":false,"ticks":false,"domain":false,"grid":true,"gridWidth":0.55}},"color":{"field":"c","type":"nominal","title":"95% Credible Interval Covers the Truth","scale":{"domain":["FALSE","TRUE"]},"legend":{"orient":"none","legendX":270,"legendY":899,"direction":"horizontal","titleOrient":"left"}}}},
{"data":{"values":[{"p":"ER3","a":-1,"b":2}]},"mark":{"type":"rule","color":"#A3A3A3","strokeWidth":1.1,"strokeDash":[5,4],"clip":true},"encoding":{"x":{"field":"a","type":"quantitative","title":null,"axis":null},"y":{"field":"a","type":"quantitative","title":null},"x2":{"field":"b"},"y2":{"field":"b"}}}
]}]},
{"spacing":0,"bounds":"flush","resolve":{"scale":{"x":"independent","y":"independent","color":"shared"},"legend":{"color":"shared"}},"vconcat":[
{"width":173,"height":30,"data":{"values":[{"t":"Erdos Renyi"}]},"mark":{"type":"text","fontSize":15,"color":"#1A1A1A","fontWeight":"normal"},"encoding":{"text":{"field":"t"}},"view":{"fill":"#F2F2F2","stroke":"#333333"}},
{"width":173,"height":30,"data":{"values":[{"t":"P(y_ik =5)"}]},"mark":{"type":"text","fontSize":15,"color":"#1A1A1A","fontWeight":"normal"},"encoding":{"text":{"field":"t"}},"view":{"fill":"#F2F2F2","stroke":"#333333"}},
{"width":173,"height":119,"data":{"name":"d"},"transform":[{"filter":"datum.p=='ER5'"}],"resolve":{"axis":{"x":"independent"}},
"encoding":{"y":{"field":"y","type":"quantitative","title":null,"scale":{"domain":[-0.0166,0.179],"nice":false,"zero":false},"axis":{"labelOverlap":false,"values":[0,0.025,0.05,0.075,0.1,0.125,0.15,0.175],"labelExpr":"abs(datum.value/0.05-round(datum.value/0.05))>0.01?'':format(datum.value,'.2f')","gridWidth":{"condition":{"test":"abs(datum.value/0.05-round(datum.value/0.05))>0.01","value":0.55},"value":1.1},"tickOpacity":{"condition":{"test":"abs(datum.value/0.05-round(datum.value/0.05))>0.01","value":0},"value":1}}}},
"layer":[
{"mark":{"type":"rule","opacity":0.55},"encoding":{"x":{"field":"l","type":"quantitative","title":null,"scale":{"domain":[-0.0095,0.2055],"nice":false,"zero":false},"axis":{"orient":"bottom","values":[0,0.05,0.1,0.15,0.2],"format":".2f","gridWidth":1.1,"labelOverlap":false}},"x2":{"field":"h"},"color":{"condition":{"test":"datum.c=='TRUE'","value":"#00BFC4"},"value":"#F8766D"}}},
{"transform":[{"fold":["l","h"],"as":["k","v"]}],"mark":{"type":"tick","orient":"vertical","size":6,"thickness":1,"opacity":0.55},"encoding":{"x":{"field":"v","type":"quantitative","title":null,"axis":null},"color":{"condition":{"test":"datum.c=='TRUE'","value":"#00BFC4"},"value":"#F8766D"}}},
{"mark":{"type":"point","filled":true,"opacity":1,"size":50},"encoding":{"x":{"field":"x","type":"quantitative","title":null,"axis":{"orient":"top","values":[0.025,0.075,0.125,0.175],"labels":false,"ticks":false,"domain":false,"grid":true,"gridWidth":0.55}},"color":{"field":"c","type":"nominal","title":"95% Credible Interval Covers the Truth","scale":{"domain":["FALSE","TRUE"]},"legend":{"orient":"none","legendX":270,"legendY":899,"direction":"horizontal","titleOrient":"left"}}}},
{"data":{"values":[{"p":"ER5","a":-1,"b":2}]},"mark":{"type":"rule","color":"#A3A3A3","strokeWidth":1.1,"strokeDash":[5,4],"clip":true},"encoding":{"x":{"field":"a","type":"quantitative","title":null,"axis":null},"y":{"field":"a","type":"quantitative","title":null},"x2":{"field":"b"},"y2":{"field":"b"}}}
]}]},
{"spacing":0,"bounds":"flush","resolve":{"scale":{"x":"independent","y":"independent","color":"shared"},"legend":{"color":"shared"}},"vconcat":[
{"width":173,"height":30,"data":{"values":[{"t":"Erdos Renyi"}]},"mark":{"type":"text","fontSize":15,"color":"#1A1A1A","fontWeight":"normal"},"encoding":{"text":{"field":"t"}},"view":{"fill":"#F2F2F2","stroke":"#333333"}},
{"width":173,"height":30,"data":{"values":[{"t":"P(y_ik =10)"}]},"mark":{"type":"text","fontSize":15,"color":"#1A1A1A","fontWeight":"normal"},"encoding":{"text":{"field":"t"}},"view":{"fill":"#F2F2F2","stroke":"#333333"}},
{"width":173,"height":119,"data":{"name":"d"},"transform":[{"filter":"datum.p=='ER10'"}],"resolve":{"axis":{"x":"independent"}},
"encoding":{"y":{"field":"y","type":"quantitative","title":null,"scale":{"domain":[-0.0078,0.0855],"nice":false,"zero":false},"axis":{"labelOverlap":false,"values":[0,0.01,0.02,0.03,0.04,0.05,0.06,0.07,0.08],"labelExpr":"abs(datum.value/0.02-round(datum.value/0.02))>0.01?'':format(datum.value,'.2f')","gridWidth":{"condition":{"test":"abs(datum.value/0.02-round(datum.value/0.02))>0.01","value":0.55},"value":1.1},"tickOpacity":{"condition":{"test":"abs(datum.value/0.02-round(datum.value/0.02))>0.01","value":0},"value":1}}}},
"layer":[
{"mark":{"type":"rule","opacity":0.55},"encoding":{"x":{"field":"l","type":"quantitative","title":null,"scale":{"domain":[-0.0057,0.1066],"nice":false,"zero":false},"axis":{"orient":"bottom","values":[0,0.025,0.05,0.075,0.1],"format":".3f","gridWidth":1.1,"labelOverlap":false,"labelFontSize":14}},"x2":{"field":"h"},"color":{"condition":{"test":"datum.c=='TRUE'","value":"#00BFC4"},"value":"#F8766D"}}},
{"transform":[{"fold":["l","h"],"as":["k","v"]}],"mark":{"type":"tick","orient":"vertical","size":6,"thickness":1,"opacity":0.55},"encoding":{"x":{"field":"v","type":"quantitative","title":null,"axis":null},"color":{"condition":{"test":"datum.c=='TRUE'","value":"#00BFC4"},"value":"#F8766D"}}},
{"mark":{"type":"point","filled":true,"opacity":1,"size":50},"encoding":{"x":{"field":"x","type":"quantitative","title":null,"axis":{"orient":"top","values":[0.0125,0.0375,0.0625,0.0875],"labels":false,"ticks":false,"domain":false,"grid":true,"gridWidth":0.55}},"color":{"field":"c","type":"nominal","title":"95% Credible Interval Covers the Truth","scale":{"domain":["FALSE","TRUE"]},"legend":{"orient":"none","legendX":270,"legendY":899,"direction":"horizontal","titleOrient":"left"}}}},
{"data":{"values":[{"p":"ER10","a":-1,"b":2}]},"mark":{"type":"rule","color":"#A3A3A3","strokeWidth":1.1,"strokeDash":[5,4],"clip":true},"encoding":{"x":{"field":"a","type":"quantitative","title":null,"axis":null},"y":{"field":"a","type":"quantitative","title":null},"x2":{"field":"b"},"y2":{"field":"b"}}}
]}]},
{"spacing":0,"bounds":"flush","resolve":{"scale":{"x":"independent","y":"independent","color":"shared"},"legend":{"color":"shared"}},"vconcat":[
{"width":173,"height":30,"data":{"values":[{"t":"Varying Degree"}]},"mark":{"type":"text","fontSize":15,"color":"#1A1A1A","fontWeight":"normal"},"encoding":{"text":{"field":"t"}},"view":{"fill":"#F2F2F2","stroke":"#333333"}},
{"width":173,"height":30,"data":{"values":[{"t":"P(y_ik =0)"}]},"mark":{"type":"text","fontSize":15,"color":"#1A1A1A","fontWeight":"normal"},"encoding":{"text":{"field":"t"}},"view":{"fill":"#F2F2F2","stroke":"#333333"}},
{"width":173,"height":119,"data":{"name":"d"},"transform":[{"filter":"datum.p=='VD0'"}],"resolve":{"axis":{"x":"independent"}},
"encoding":{"y":{"field":"y","type":"quantitative","title":null,"scale":{"domain":[0.043,1.057],"nice":false,"zero":false},"axis":{"labelOverlap":false,"values":[0.125,0.25,0.375,0.5,0.625,0.75,0.875,1],"labelExpr":"abs(datum.value/0.25-round(datum.value/0.25))>0.01?'':format(datum.value,'.2f')","gridWidth":{"condition":{"test":"abs(datum.value/0.25-round(datum.value/0.25))>0.01","value":0.55},"value":1.1},"tickOpacity":{"condition":{"test":"abs(datum.value/0.25-round(datum.value/0.25))>0.01","value":0},"value":1}}}},
"layer":[
{"mark":{"type":"rule","opacity":0.55},"encoding":{"x":{"field":"l","type":"quantitative","title":null,"scale":{"domain":[-0.008,1.038],"nice":false,"zero":false},"axis":{"orient":"bottom","values":[0,0.25,0.5,0.75,1],"format":".2f","gridWidth":1.1,"labelOverlap":false}},"x2":{"field":"h"},"color":{"condition":{"test":"datum.c=='TRUE'","value":"#00BFC4"},"value":"#F8766D"}}},
{"transform":[{"fold":["l","h"],"as":["k","v"]}],"mark":{"type":"tick","orient":"vertical","size":6,"thickness":1,"opacity":0.55},"encoding":{"x":{"field":"v","type":"quantitative","title":null,"axis":null},"color":{"condition":{"test":"datum.c=='TRUE'","value":"#00BFC4"},"value":"#F8766D"}}},
{"mark":{"type":"point","filled":true,"opacity":1,"size":50},"encoding":{"x":{"field":"x","type":"quantitative","title":null,"axis":{"orient":"top","values":[0.125,0.375,0.625,0.875],"labels":false,"ticks":false,"domain":false,"grid":true,"gridWidth":0.55}},"color":{"field":"c","type":"nominal","title":"95% Credible Interval Covers the Truth","scale":{"domain":["FALSE","TRUE"]},"legend":{"orient":"none","legendX":270,"legendY":899,"direction":"horizontal","titleOrient":"left"}}}},
{"data":{"values":[{"p":"VD0","a":-1,"b":2}]},"mark":{"type":"rule","color":"#A3A3A3","strokeWidth":1.1,"strokeDash":[5,4],"clip":true},"encoding":{"x":{"field":"a","type":"quantitative","title":null,"axis":null},"y":{"field":"a","type":"quantitative","title":null},"x2":{"field":"b"},"y2":{"field":"b"}}}
]}]},
{"spacing":0,"bounds":"flush","resolve":{"scale":{"x":"independent","y":"independent","color":"shared"},"legend":{"color":"shared"}},"vconcat":[
{"width":173,"height":30,"data":{"values":[{"t":"Varying Degree"}]},"mark":{"type":"text","fontSize":15,"color":"#1A1A1A","fontWeight":"normal"},"encoding":{"text":{"field":"t"}},"view":{"fill":"#F2F2F2","stroke":"#333333"}},
{"width":173,"height":30,"data":{"values":[{"t":"P(y_ik =1)"}]},"mark":{"type":"text","fontSize":15,"color":"#1A1A1A","fontWeight":"normal"},"encoding":{"text":{"field":"t"}},"view":{"fill":"#F2F2F2","stroke":"#333333"}},
{"width":173,"height":119,"data":{"name":"d"},"transform":[{"filter":"datum.p=='VD1'"}],"resolve":{"axis":{"x":"independent"}},
"encoding":{"y":{"field":"y","type":"quantitative","title":null,"scale":{"domain":[-0.0085,0.29],"nice":false,"zero":false},"axis":{"labelOverlap":false,"values":[0,0.05,0.1,0.15,0.2,0.25],"labelExpr":"abs(datum.value/0.1-round(datum.value/0.1))>0.01?'':format(datum.value,'.1f')","gridWidth":{"condition":{"test":"abs(datum.value/0.1-round(datum.value/0.1))>0.01","value":0.55},"value":1.1},"tickOpacity":{"condition":{"test":"abs(datum.value/0.1-round(datum.value/0.1))>0.01","value":0},"value":1}}}},
"layer":[
{"mark":{"type":"rule","opacity":0.55},"encoding":{"x":{"field":"l","type":"quantitative","title":null,"scale":{"domain":[0.001,0.318],"nice":false,"zero":false},"axis":{"orient":"bottom","values":[0.1,0.2,0.3],"format":".1f","gridWidth":1.1,"labelOverlap":false}},"x2":{"field":"h"},"color":{"condition":{"test":"datum.c=='TRUE'","value":"#00BFC4"},"value":"#F8766D"}}},
{"transform":[{"fold":["l","h"],"as":["k","v"]}],"mark":{"type":"tick","orient":"vertical","size":6,"thickness":1,"opacity":0.55},"encoding":{"x":{"field":"v","type":"quantitative","title":null,"axis":null},"color":{"condition":{"test":"datum.c=='TRUE'","value":"#00BFC4"},"value":"#F8766D"}}},
{"mark":{"type":"point","filled":true,"opacity":1,"size":50},"encoding":{"x":{"field":"x","type":"quantitative","title":null,"axis":{"orient":"top","values":[0.05,0.15,0.25],"labels":false,"ticks":false,"domain":false,"grid":true,"gridWidth":0.55}},"color":{"field":"c","type":"nominal","title":"95% Credible Interval Covers the Truth","scale":{"domain":["FALSE","TRUE"]},"legend":{"orient":"none","legendX":270,"legendY":899,"direction":"horizontal","titleOrient":"left"}}}},
{"data":{"values":[{"p":"VD1","a":-1,"b":2}]},"mark":{"type":"rule","color":"#A3A3A3","strokeWidth":1.1,"strokeDash":[5,4],"clip":true},"encoding":{"x":{"field":"a","type":"quantitative","title":null,"axis":null},"y":{"field":"a","type":"quantitative","title":null},"x2":{"field":"b"},"y2":{"field":"b"}}}
]}]},
{"spacing":0,"bounds":"flush","resolve":{"scale":{"x":"independent","y":"independent","color":"shared"},"legend":{"color":"shared"}},"vconcat":[
{"width":173,"height":30,"data":{"values":[{"t":"Varying Degree"}]},"mark":{"type":"text","fontSize":15,"color":"#1A1A1A","fontWeight":"normal"},"encoding":{"text":{"field":"t"}},"view":{"fill":"#F2F2F2","stroke":"#333333"}},
{"width":173,"height":30,"data":{"values":[{"t":"P(y_ik =3)"}]},"mark":{"type":"text","fontSize":15,"color":"#1A1A1A","fontWeight":"normal"},"encoding":{"text":{"field":"t"}},"view":{"fill":"#F2F2F2","stroke":"#333333"}},
{"width":173,"height":119,"data":{"name":"d"},"transform":[{"filter":"datum.p=='VD3'"}],"resolve":{"axis":{"x":"independent"}},
"encoding":{"y":{"field":"y","type":"quantitative","title":null,"scale":{"domain":[-0.0089,0.1333],"nice":false,"zero":false},"axis":{"labelOverlap":false,"values":[0,0.025,0.05,0.075,0.1,0.125],"labelExpr":"abs(datum.value/0.05-round(datum.value/0.05))>0.01?'':format(datum.value,'.2f')","gridWidth":{"condition":{"test":"abs(datum.value/0.05-round(datum.value/0.05))>0.01","value":0.55},"value":1.1},"tickOpacity":{"condition":{"test":"abs(datum.value/0.05-round(datum.value/0.05))>0.01","value":0},"value":1}}}},
"layer":[
{"mark":{"type":"rule","opacity":0.55},"encoding":{"x":{"field":"l","type":"quantitative","title":null,"scale":{"domain":[-0.008,0.154],"nice":false,"zero":false},"axis":{"orient":"bottom","values":[0,0.05,0.1,0.15],"format":".2f","gridWidth":1.1,"labelOverlap":false}},"x2":{"field":"h"},"color":{"condition":{"test":"datum.c=='TRUE'","value":"#00BFC4"},"value":"#F8766D"}}},
{"transform":[{"fold":["l","h"],"as":["k","v"]}],"mark":{"type":"tick","orient":"vertical","size":6,"thickness":1,"opacity":0.55},"encoding":{"x":{"field":"v","type":"quantitative","title":null,"axis":null},"color":{"condition":{"test":"datum.c=='TRUE'","value":"#00BFC4"},"value":"#F8766D"}}},
{"mark":{"type":"point","filled":true,"opacity":1,"size":50},"encoding":{"x":{"field":"x","type":"quantitative","title":null,"axis":{"orient":"top","values":[0.025,0.075,0.125],"labels":false,"ticks":false,"domain":false,"grid":true,"gridWidth":0.55}},"color":{"field":"c","type":"nominal","title":"95% Credible Interval Covers the Truth","scale":{"domain":["FALSE","TRUE"]},"legend":{"orient":"none","legendX":270,"legendY":899,"direction":"horizontal","titleOrient":"left"}}}},
{"data":{"values":[{"p":"VD3","a":-1,"b":2}]},"mark":{"type":"rule","color":"#A3A3A3","strokeWidth":1.1,"strokeDash":[5,4],"clip":true},"encoding":{"x":{"field":"a","type":"quantitative","title":null,"axis":null},"y":{"field":"a","type":"quantitative","title":null},"x2":{"field":"b"},"y2":{"field":"b"}}}
]}]},
{"spacing":0,"bounds":"flush","resolve":{"scale":{"x":"independent","y":"independent","color":"shared"},"legend":{"color":"shared"}},"vconcat":[
{"width":173,"height":30,"data":{"values":[{"t":"Varying Degree"}]},"mark":{"type":"text","fontSize":15,"color":"#1A1A1A","fontWeight":"normal"},"encoding":{"text":{"field":"t"}},"view":{"fill":"#F2F2F2","stroke":"#333333"}},
{"width":173,"height":30,"data":{"values":[{"t":"P(y_ik =5)"}]},"mark":{"type":"text","fontSize":15,"color":"#1A1A1A","fontWeight":"normal"},"encoding":{"text":{"field":"t"}},"view":{"fill":"#F2F2F2","stroke":"#333333"}},
{"width":173,"height":119,"data":{"name":"d"},"transform":[{"filter":"datum.p=='VD5'"}],"resolve":{"axis":{"x":"independent"}},
"encoding":{"y":{"field":"y","type":"quantitative","title":null,"scale":{"domain":[-0.006,0.0901],"nice":false,"zero":false},"axis":{"labelOverlap":false,"values":[0,0.0125,0.025,0.0375,0.05,0.0625,0.075,0.0875],"labelExpr":"abs(datum.value/0.025-round(datum.value/0.025))>0.01?'':format(datum.value,'.3f')","gridWidth":{"condition":{"test":"abs(datum.value/0.025-round(datum.value/0.025))>0.01","value":0.55},"value":1.1},"tickOpacity":{"condition":{"test":"abs(datum.value/0.025-round(datum.value/0.025))>0.01","value":0},"value":1}}}},
"layer":[
{"mark":{"type":"rule","opacity":0.55},"encoding":{"x":{"field":"l","type":"quantitative","title":null,"scale":{"domain":[-0.0047,0.1033],"nice":false,"zero":false},"axis":{"orient":"bottom","values":[0,0.025,0.05,0.075,0.1],"format":".3f","gridWidth":1.1,"labelOverlap":false,"labelFontSize":14}},"x2":{"field":"h"},"color":{"condition":{"test":"datum.c=='TRUE'","value":"#00BFC4"},"value":"#F8766D"}}},
{"transform":[{"fold":["l","h"],"as":["k","v"]}],"mark":{"type":"tick","orient":"vertical","size":6,"thickness":1,"opacity":0.55},"encoding":{"x":{"field":"v","type":"quantitative","title":null,"axis":null},"color":{"condition":{"test":"datum.c=='TRUE'","value":"#00BFC4"},"value":"#F8766D"}}},
{"mark":{"type":"point","filled":true,"opacity":1,"size":50},"encoding":{"x":{"field":"x","type":"quantitative","title":null,"axis":{"orient":"top","values":[0.0125,0.0375,0.0625,0.0875],"labels":false,"ticks":false,"domain":false,"grid":true,"gridWidth":0.55}},"color":{"field":"c","type":"nominal","title":"95% Credible Interval Covers the Truth","scale":{"domain":["FALSE","TRUE"]},"legend":{"orient":"none","legendX":270,"legendY":899,"direction":"horizontal","titleOrient":"left"}}}},
{"data":{"values":[{"p":"VD5","a":-1,"b":2}]},"mark":{"type":"rule","color":"#A3A3A3","strokeWidth":1.1,"strokeDash":[5,4],"clip":true},"encoding":{"x":{"field":"a","type":"quantitative","title":null,"axis":null},"y":{"field":"a","type":"quantitative","title":null},"x2":{"field":"b"},"y2":{"field":"b"}}}
]}]},
{"spacing":0,"bounds":"flush","resolve":{"scale":{"x":"independent","y":"independent","color":"shared"},"legend":{"color":"shared"}},"vconcat":[
{"width":173,"height":30,"data":{"values":[{"t":"Varying Degree"}]},"mark":{"type":"text","fontSize":15,"color":"#1A1A1A","fontWeight":"normal"},"encoding":{"text":{"field":"t"}},"view":{"fill":"#F2F2F2","stroke":"#333333"}},
{"width":173,"height":30,"data":{"values":[{"t":"P(y_ik =10)"}]},"mark":{"type":"text","fontSize":15,"color":"#1A1A1A","fontWeight":"normal"},"encoding":{"text":{"field":"t"}},"view":{"fill":"#F2F2F2","stroke":"#333333"}},
{"width":173,"height":119,"data":{"name":"d"},"transform":[{"filter":"datum.p=='VD10'"}],"resolve":{"axis":{"x":"independent"}},
"encoding":{"y":{"field":"y","type":"quantitative","title":null,"scale":{"domain":[-0.0027,0.0403],"nice":false,"zero":false},"axis":{"labelOverlap":false,"values":[0,0.005,0.01,0.015,0.02,0.025,0.03,0.035,0.04],"labelExpr":"abs(datum.value/0.01-round(datum.value/0.01))>0.01?'':format(datum.value,'.2f')","gridWidth":{"condition":{"test":"abs(datum.value/0.01-round(datum.value/0.01))>0.01","value":0.55},"value":1.1},"tickOpacity":{"condition":{"test":"abs(datum.value/0.01-round(datum.value/0.01))>0.01","value":0},"value":1}}}},
"layer":[
{"mark":{"type":"rule","opacity":0.55},"encoding":{"x":{"field":"l","type":"quantitative","title":null,"scale":{"domain":[-0.0025,0.0512],"nice":false,"zero":false},"axis":{"orient":"bottom","values":[0,0.01,0.02,0.03,0.04,0.05],"format":".2f","gridWidth":1.1,"labelOverlap":false,"labelFontSize":14}},"x2":{"field":"h"},"color":{"condition":{"test":"datum.c=='TRUE'","value":"#00BFC4"},"value":"#F8766D"}}},
{"transform":[{"fold":["l","h"],"as":["k","v"]}],"mark":{"type":"tick","orient":"vertical","size":6,"thickness":1,"opacity":0.55},"encoding":{"x":{"field":"v","type":"quantitative","title":null,"axis":null},"color":{"condition":{"test":"datum.c=='TRUE'","value":"#00BFC4"},"value":"#F8766D"}}},
{"mark":{"type":"point","filled":true,"opacity":1,"size":50},"encoding":{"x":{"field":"x","type":"quantitative","title":null,"axis":{"orient":"top","values":[0.005,0.015,0.025,0.035,0.045],"labels":false,"ticks":false,"domain":false,"grid":true,"gridWidth":0.55}},"color":{"field":"c","type":"nominal","title":"95% Credible Interval Covers the Truth","scale":{"domain":["FALSE","TRUE"]},"legend":{"orient":"none","legendX":270,"legendY":899,"direction":"horizontal","titleOrient":"left"}}}},
{"data":{"values":[{"p":"VD10","a":-1,"b":2}]},"mark":{"type":"rule","color":"#A3A3A3","strokeWidth":1.1,"strokeDash":[5,4],"clip":true},"encoding":{"x":{"field":"a","type":"quantitative","title":null,"axis":null},"y":{"field":"a","type":"quantitative","title":null},"x2":{"field":"b"},"y2":{"field":"b"}}}
]}]},
{"spacing":0,"bounds":"flush","resolve":{"scale":{"x":"independent","y":"independent","color":"shared"},"legend":{"color":"shared"}},"vconcat":[
{"width":173,"height":30,"data":{"values":[{"t":"Overdispersed"}]},"mark":{"type":"text","fontSize":15,"color":"#1A1A1A","fontWeight":"normal"},"encoding":{"text":{"field":"t"}},"view":{"fill":"#F2F2F2","stroke":"#333333"}},
{"width":173,"height":30,"data":{"values":[{"t":"P(y_ik =0)"}]},"mark":{"type":"text","fontSize":15,"color":"#1A1A1A","fontWeight":"normal"},"encoding":{"text":{"field":"t"}},"view":{"fill":"#F2F2F2","stroke":"#333333"}},
{"width":173,"height":119,"data":{"name":"d"},"transform":[{"filter":"datum.p=='OD0'"}],"resolve":{"axis":{"x":"independent"}},
"encoding":{"y":{"field":"y","type":"quantitative","title":null,"scale":{"domain":[0.06,1.04],"nice":false,"zero":false},"axis":{"labelOverlap":false,"values":[0.125,0.25,0.375,0.5,0.625,0.75,0.875,1],"labelExpr":"abs(datum.value/0.25-round(datum.value/0.25))>0.01?'':format(datum.value,'.2f')","gridWidth":{"condition":{"test":"abs(datum.value/0.25-round(datum.value/0.25))>0.01","value":0.55},"value":1.1},"tickOpacity":{"condition":{"test":"abs(datum.value/0.25-round(datum.value/0.25))>0.01","value":0},"value":1}}}},
"layer":[
{"mark":{"type":"rule","opacity":0.55},"encoding":{"x":{"field":"l","type":"quantitative","title":null,"scale":{"domain":[0.072,1.03],"nice":false,"zero":false},"axis":{"orient":"bottom","values":[0.25,0.5,0.75,1],"format":".2f","gridWidth":1.1,"labelOverlap":false}},"x2":{"field":"h"},"color":{"condition":{"test":"datum.c=='TRUE'","value":"#00BFC4"},"value":"#F8766D"}}},
{"transform":[{"fold":["l","h"],"as":["k","v"]}],"mark":{"type":"tick","orient":"vertical","size":6,"thickness":1,"opacity":0.55},"encoding":{"x":{"field":"v","type":"quantitative","title":null,"axis":null},"color":{"condition":{"test":"datum.c=='TRUE'","value":"#00BFC4"},"value":"#F8766D"}}},
{"mark":{"type":"point","filled":true,"opacity":1,"size":50},"encoding":{"x":{"field":"x","type":"quantitative","title":null,"axis":{"orient":"top","values":[0.125,0.375,0.625,0.875],"labels":false,"ticks":false,"domain":false,"grid":true,"gridWidth":0.55}},"color":{"field":"c","type":"nominal","title":"95% Credible Interval Covers the Truth","scale":{"domain":["FALSE","TRUE"]},"legend":{"orient":"none","legendX":270,"legendY":899,"direction":"horizontal","titleOrient":"left"}}}},
{"data":{"values":[{"p":"OD0","a":-1,"b":2}]},"mark":{"type":"rule","color":"#A3A3A3","strokeWidth":1.1,"strokeDash":[5,4],"clip":true},"encoding":{"x":{"field":"a","type":"quantitative","title":null,"axis":null},"y":{"field":"a","type":"quantitative","title":null},"x2":{"field":"b"},"y2":{"field":"b"}}}
]}]},
{"spacing":0,"bounds":"flush","resolve":{"scale":{"x":"independent","y":"independent","color":"shared"},"legend":{"color":"shared"}},"vconcat":[
{"width":173,"height":30,"data":{"values":[{"t":"Overdispersed"}]},"mark":{"type":"text","fontSize":15,"color":"#1A1A1A","fontWeight":"normal"},"encoding":{"text":{"field":"t"}},"view":{"fill":"#F2F2F2","stroke":"#333333"}},
{"width":173,"height":30,"data":{"values":[{"t":"P(y_ik =1)"}]},"mark":{"type":"text","fontSize":15,"color":"#1A1A1A","fontWeight":"normal"},"encoding":{"text":{"field":"t"}},"view":{"fill":"#F2F2F2","stroke":"#333333"}},
{"width":173,"height":119,"data":{"name":"d"},"transform":[{"filter":"datum.p=='OD1'"}],"resolve":{"axis":{"x":"independent"}},
"encoding":{"y":{"field":"y","type":"quantitative","title":null,"scale":{"domain":[-0.004,0.271],"nice":false,"zero":false},"axis":{"labelOverlap":false,"values":[0,0.05,0.1,0.15,0.2,0.25],"labelExpr":"abs(datum.value/0.1-round(datum.value/0.1))>0.01?'':format(datum.value,'.1f')","gridWidth":{"condition":{"test":"abs(datum.value/0.1-round(datum.value/0.1))>0.01","value":0.55},"value":1.1},"tickOpacity":{"condition":{"test":"abs(datum.value/0.1-round(datum.value/0.1))>0.01","value":0},"value":1}}}},
"layer":[
{"mark":{"type":"rule","opacity":0.55},"encoding":{"x":{"field":"l","type":"quantitative","title":null,"scale":{"domain":[-0.005,0.271],"nice":false,"zero":false},"axis":{"orient":"bottom","values":[0,0.1,0.2],"format":".1f","gridWidth":1.1,"labelOverlap":false}},"x2":{"field":"h"},"color":{"condition":{"test":"datum.c=='TRUE'","value":"#00BFC4"},"value":"#F8766D"}}},
{"transform":[{"fold":["l","h"],"as":["k","v"]}],"mark":{"type":"tick","orient":"vertical","size":6,"thickness":1,"opacity":0.55},"encoding":{"x":{"field":"v","type":"quantitative","title":null,"axis":null},"color":{"condition":{"test":"datum.c=='TRUE'","value":"#00BFC4"},"value":"#F8766D"}}},
{"mark":{"type":"point","filled":true,"opacity":1,"size":50},"encoding":{"x":{"field":"x","type":"quantitative","title":null,"axis":{"orient":"top","values":[0.05,0.15,0.25],"labels":false,"ticks":false,"domain":false,"grid":true,"gridWidth":0.55}},"color":{"field":"c","type":"nominal","title":"95% Credible Interval Covers the Truth","scale":{"domain":["FALSE","TRUE"]},"legend":{"orient":"none","legendX":270,"legendY":899,"direction":"horizontal","titleOrient":"left"}}}},
{"data":{"values":[{"p":"OD1","a":-1,"b":2}]},"mark":{"type":"rule","color":"#A3A3A3","strokeWidth":1.1,"strokeDash":[5,4],"clip":true},"encoding":{"x":{"field":"a","type":"quantitative","title":null,"axis":null},"y":{"field":"a","type":"quantitative","title":null},"x2":{"field":"b"},"y2":{"field":"b"}}}
]}]},
{"spacing":0,"bounds":"flush","resolve":{"scale":{"x":"independent","y":"independent","color":"shared"},"legend":{"color":"shared"}},"vconcat":[
{"width":173,"height":30,"data":{"values":[{"t":"Overdispersed"}]},"mark":{"type":"text","fontSize":15,"color":"#1A1A1A","fontWeight":"normal"},"encoding":{"text":{"field":"t"}},"view":{"fill":"#F2F2F2","stroke":"#333333"}},
{"width":173,"height":30,"data":{"values":[{"t":"P(y_ik =3)"}]},"mark":{"type":"text","fontSize":15,"color":"#1A1A1A","fontWeight":"normal"},"encoding":{"text":{"field":"t"}},"view":{"fill":"#F2F2F2","stroke":"#333333"}},
{"width":173,"height":119,"data":{"name":"d"},"transform":[{"filter":"datum.p=='OD3'"}],"resolve":{"axis":{"x":"independent"}},
"encoding":{"y":{"field":"y","type":"quantitative","title":null,"scale":{"domain":[-0.0096,0.1266],"nice":false,"zero":false},"axis":{"labelOverlap":false,"values":[0,0.02,0.04,0.06,0.08,0.1,0.12],"labelExpr":"abs(datum.value/0.04-round(datum.value/0.04))>0.01?'':format(datum.value,'.2f')","gridWidth":{"condition":{"test":"abs(datum.value/0.04-round(datum.value/0.04))>0.01","value":0.55},"value":1.1},"tickOpacity":{"condition":{"test":"abs(datum.value/0.04-round(datum.value/0.04))>0.01","value":0},"value":1}}}},
"layer":[
{"mark":{"type":"rule","opacity":0.55},"encoding":{"x":{"field":"l","type":"quantitative","title":null,"scale":{"domain":[-0.0074,0.1451],"nice":false,"zero":false},"axis":{"orient":"bottom","values":[0,0.05,0.1],"format":".2f","gridWidth":1.1,"labelOverlap":false}},"x2":{"field":"h"},"color":{"condition":{"test":"datum.c=='TRUE'","value":"#00BFC4"},"value":"#F8766D"}}},
{"transform":[{"fold":["l","h"],"as":["k","v"]}],"mark":{"type":"tick","orient":"vertical","size":6,"thickness":1,"opacity":0.55},"encoding":{"x":{"field":"v","type":"quantitative","title":null,"axis":null},"color":{"condition":{"test":"datum.c=='TRUE'","value":"#00BFC4"},"value":"#F8766D"}}},
{"mark":{"type":"point","filled":true,"opacity":1,"size":50},"encoding":{"x":{"field":"x","type":"quantitative","title":null,"axis":{"orient":"top","values":[0.025,0.075,0.125],"labels":false,"ticks":false,"domain":false,"grid":true,"gridWidth":0.55}},"color":{"field":"c","type":"nominal","title":"95% Credible Interval Covers the Truth","scale":{"domain":["FALSE","TRUE"]},"legend":{"orient":"none","legendX":270,"legendY":899,"direction":"horizontal","titleOrient":"left"}}}},
{"data":{"values":[{"p":"OD3","a":-1,"b":2}]},"mark":{"type":"rule","color":"#A3A3A3","strokeWidth":1.1,"strokeDash":[5,4],"clip":true},"encoding":{"x":{"field":"a","type":"quantitative","title":null,"axis":null},"y":{"field":"a","type":"quantitative","title":null},"x2":{"field":"b"},"y2":{"field":"b"}}}
]}]},
{"spacing":0,"bounds":"flush","resolve":{"scale":{"x":"independent","y":"independent","color":"shared"},"legend":{"color":"shared"}},"vconcat":[
{"width":173,"height":30,"data":{"values":[{"t":"Overdispersed"}]},"mark":{"type":"text","fontSize":15,"color":"#1A1A1A","fontWeight":"normal"},"encoding":{"text":{"field":"t"}},"view":{"fill":"#F2F2F2","stroke":"#333333"}},
{"width":173,"height":30,"data":{"values":[{"t":"P(y_ik =5)"}]},"mark":{"type":"text","fontSize":15,"color":"#1A1A1A","fontWeight":"normal"},"encoding":{"text":{"field":"t"}},"view":{"fill":"#F2F2F2","stroke":"#333333"}},
{"width":173,"height":119,"data":{"name":"d"},"transform":[{"filter":"datum.p=='OD5'"}],"resolve":{"axis":{"x":"independent"}},
"encoding":{"y":{"field":"y","type":"quantitative","title":null,"scale":{"domain":[-0.0069,0.091],"nice":false,"zero":false},"axis":{"labelOverlap":false,"values":[0,0.0125,0.025,0.0375,0.05,0.0625,0.075,0.0875],"labelExpr":"abs(datum.value/0.025-round(datum.value/0.025))>0.01?'':format(datum.value,'.3f')","gridWidth":{"condition":{"test":"abs(datum.value/0.025-round(datum.value/0.025))>0.01","value":0.55},"value":1.1},"tickOpacity":{"condition":{"test":"abs(datum.value/0.025-round(datum.value/0.025))>0.01","value":0},"value":1}}}},
"layer":[
{"mark":{"type":"rule","opacity":0.55},"encoding":{"x":{"field":"l","type":"quantitative","title":null,"scale":{"domain":[-0.0041,0.0802],"nice":false,"zero":false},"axis":{"orient":"bottom","values":[0,0.025,0.05,0.075],"format":".3f","gridWidth":1.1,"labelOverlap":false}},"x2":{"field":"h"},"color":{"condition":{"test":"datum.c=='TRUE'","value":"#00BFC4"},"value":"#F8766D"}}},
{"transform":[{"fold":["l","h"],"as":["k","v"]}],"mark":{"type":"tick","orient":"vertical","size":6,"thickness":1,"opacity":0.55},"encoding":{"x":{"field":"v","type":"quantitative","title":null,"axis":null},"color":{"condition":{"test":"datum.c=='TRUE'","value":"#00BFC4"},"value":"#F8766D"}}},
{"mark":{"type":"point","filled":true,"opacity":1,"size":50},"encoding":{"x":{"field":"x","type":"quantitative","title":null,"axis":{"orient":"top","values":[0.0125,0.0375,0.0625],"labels":false,"ticks":false,"domain":false,"grid":true,"gridWidth":0.55}},"color":{"field":"c","type":"nominal","title":"95% Credible Interval Covers the Truth","scale":{"domain":["FALSE","TRUE"]},"legend":{"orient":"none","legendX":270,"legendY":899,"direction":"horizontal","titleOrient":"left"}}}},
{"data":{"values":[{"p":"OD5","a":-1,"b":2}]},"mark":{"type":"rule","color":"#A3A3A3","strokeWidth":1.1,"strokeDash":[5,4],"clip":true},"encoding":{"x":{"field":"a","type":"quantitative","title":null,"axis":null},"y":{"field":"a","type":"quantitative","title":null},"x2":{"field":"b"},"y2":{"field":"b"}}}
]}]},
{"spacing":0,"bounds":"flush","resolve":{"scale":{"x":"independent","y":"independent","color":"shared"},"legend":{"color":"shared"}},"vconcat":[
{"width":173,"height":30,"data":{"values":[{"t":"Overdispersed"}]},"mark":{"type":"text","fontSize":15,"color":"#1A1A1A","fontWeight":"normal"},"encoding":{"text":{"field":"t"}},"view":{"fill":"#F2F2F2","stroke":"#333333"}},
{"width":173,"height":30,"data":{"values":[{"t":"P(y_ik =10)"}]},"mark":{"type":"text","fontSize":15,"color":"#1A1A1A","fontWeight":"normal"},"encoding":{"text":{"field":"t"}},"view":{"fill":"#F2F2F2","stroke":"#333333"}},
{"width":173,"height":119,"data":{"name":"d"},"transform":[{"filter":"datum.p=='OD10'"}],"resolve":{"axis":{"x":"independent"}},
"encoding":{"y":{"field":"y","type":"quantitative","title":null,"scale":{"domain":[-0.0031,0.0403],"nice":false,"zero":false},"axis":{"labelOverlap":false,"values":[0,0.005,0.01,0.015,0.02,0.025,0.03,0.035,0.04],"labelExpr":"abs(datum.value/0.01-round(datum.value/0.01))>0.01?'':format(datum.value,'.2f')","gridWidth":{"condition":{"test":"abs(datum.value/0.01-round(datum.value/0.01))>0.01","value":0.55},"value":1.1},"tickOpacity":{"condition":{"test":"abs(datum.value/0.01-round(datum.value/0.01))>0.01","value":0},"value":1}}}},
"layer":[
{"mark":{"type":"rule","opacity":0.55},"encoding":{"x":{"field":"l","type":"quantitative","title":null,"scale":{"domain":[-0.0023,0.0481],"nice":false,"zero":false},"axis":{"orient":"bottom","values":[0,0.01,0.02,0.03,0.04],"format":".2f","gridWidth":1.1,"labelOverlap":false}},"x2":{"field":"h"},"color":{"condition":{"test":"datum.c=='TRUE'","value":"#00BFC4"},"value":"#F8766D"}}},
{"transform":[{"fold":["l","h"],"as":["k","v"]}],"mark":{"type":"tick","orient":"vertical","size":6,"thickness":1,"opacity":0.55},"encoding":{"x":{"field":"v","type":"quantitative","title":null,"axis":null},"color":{"condition":{"test":"datum.c=='TRUE'","value":"#00BFC4"},"value":"#F8766D"}}},
{"mark":{"type":"point","filled":true,"opacity":1,"size":50},"encoding":{"x":{"field":"x","type":"quantitative","title":null,"axis":{"orient":"top","values":[0.005,0.015,0.025,0.035,0.045],"labels":false,"ticks":false,"domain":false,"grid":true,"gridWidth":0.55}},"color":{"field":"c","type":"nominal","title":"95% Credible Interval Covers the Truth","scale":{"domain":["FALSE","TRUE"]},"legend":{"orient":"none","legendX":270,"legendY":899,"direction":"horizontal","titleOrient":"left"}}}},
{"data":{"values":[{"p":"OD10","a":-1,"b":2}]},"mark":{"type":"rule","color":"#A3A3A3","strokeWidth":1.1,"strokeDash":[5,4],"clip":true},"encoding":{"x":{"field":"a","type":"quantitative","title":null,"axis":null},"y":{"field":"a","type":"quantitative","title":null},"x2":{"field":"b"},"y2":{"field":"b"}}}
]}]},
{"spacing":0,"bounds":"flush","resolve":{"scale":{"x":"independent","y":"independent","color":"shared"},"legend":{"color":"shared"}},"vconcat":[
{"width":173,"height":30,"data":{"values":[{"t":"Barrier Effects (NSUM)"}]},"mark":{"type":"text","fontSize":15,"color":"#1A1A1A","fontWeight":"normal"},"encoding":{"text":{"field":"t"}},"view":{"fill":"#F2F2F2","stroke":"#333333"}},
{"width":173,"height":30,"data":{"values":[{"t":"P(y_ik =0)"}]},"mark":{"type":"text","fontSize":15,"color":"#1A1A1A","fontWeight":"normal"},"encoding":{"text":{"field":"t"}},"view":{"fill":"#F2F2F2","stroke":"#333333"}},
{"width":173,"height":119,"data":{"name":"d"},"transform":[{"filter":"datum.p=='BE0'"}],"resolve":{"axis":{"x":"independent"}},
"encoding":{"y":{"field":"y","type":"quantitative","title":null,"scale":{"domain":[0.06,1.04],"nice":false,"zero":false},"axis":{"labelOverlap":false,"values":[0.125,0.25,0.375,0.5,0.625,0.75,0.875,1],"labelExpr":"abs(datum.value/0.25-round(datum.value/0.25))>0.01?'':format(datum.value,'.2f')","gridWidth":{"condition":{"test":"abs(datum.value/0.25-round(datum.value/0.25))>0.01","value":0.55},"value":1.1},"tickOpacity":{"condition":{"test":"abs(datum.value/0.25-round(datum.value/0.25))>0.01","value":0},"value":1}}}},
"layer":[
{"mark":{"type":"rule","opacity":0.55},"encoding":{"x":{"field":"l","type":"quantitative","title":null,"scale":{"domain":[0.072,1.03],"nice":false,"zero":false},"axis":{"orient":"bottom","values":[0.25,0.5,0.75,1],"format":".2f","gridWidth":1.1,"labelOverlap":false}},"x2":{"field":"h"},"color":{"condition":{"test":"datum.c=='TRUE'","value":"#00BFC4"},"value":"#F8766D"}}},
{"transform":[{"fold":["l","h"],"as":["k","v"]}],"mark":{"type":"tick","orient":"vertical","size":6,"thickness":1,"opacity":0.55},"encoding":{"x":{"field":"v","type":"quantitative","title":null,"axis":null},"color":{"condition":{"test":"datum.c=='TRUE'","value":"#00BFC4"},"value":"#F8766D"}}},
{"mark":{"type":"point","filled":true,"opacity":1,"size":50},"encoding":{"x":{"field":"x","type":"quantitative","title":null,"axis":{"orient":"top","values":[0.125,0.375,0.625,0.875],"labels":false,"ticks":false,"domain":false,"grid":true,"gridWidth":0.55}},"color":{"field":"c","type":"nominal","title":"95% Credible Interval Covers the Truth","scale":{"domain":["FALSE","TRUE"]},"legend":{"orient":"none","legendX":270,"legendY":899,"direction":"horizontal","titleOrient":"left"}}}},
{"data":{"values":[{"p":"BE0","a":-1,"b":2}]},"mark":{"type":"rule","color":"#A3A3A3","strokeWidth":1.1,"strokeDash":[5,4],"clip":true},"encoding":{"x":{"field":"a","type":"quantitative","title":null,"axis":null},"y":{"field":"a","type":"quantitative","title":null},"x2":{"field":"b"},"y2":{"field":"b"}}}
]}]},
{"spacing":0,"bounds":"flush","resolve":{"scale":{"x":"independent","y":"independent","color":"shared"},"legend":{"color":"shared"}},"vconcat":[
{"width":173,"height":30,"data":{"values":[{"t":"Barrier Effects (NSUM)"}]},"mark":{"type":"text","fontSize":15,"color":"#1A1A1A","fontWeight":"normal"},"encoding":{"text":{"field":"t"}},"view":{"fill":"#F2F2F2","stroke":"#333333"}},
{"width":173,"height":30,"data":{"values":[{"t":"P(y_ik =1)"}]},"mark":{"type":"text","fontSize":15,"color":"#1A1A1A","fontWeight":"normal"},"encoding":{"text":{"field":"t"}},"view":{"fill":"#F2F2F2","stroke":"#333333"}},
{"width":173,"height":119,"data":{"name":"d"},"transform":[{"filter":"datum.p=='BE1'"}],"resolve":{"axis":{"x":"independent"}},
"encoding":{"y":{"field":"y","type":"quantitative","title":null,"scale":{"domain":[-0.0063,0.269],"nice":false,"zero":false},"axis":{"labelOverlap":false,"values":[0,0.05,0.1,0.15,0.2,0.25],"labelExpr":"abs(datum.value/0.1-round(datum.value/0.1))>0.01?'':format(datum.value,'.1f')","gridWidth":{"condition":{"test":"abs(datum.value/0.1-round(datum.value/0.1))>0.01","value":0.55},"value":1.1},"tickOpacity":{"condition":{"test":"abs(datum.value/0.1-round(datum.value/0.1))>0.01","value":0},"value":1}}}},
"layer":[
{"mark":{"type":"rule","opacity":0.55},"encoding":{"x":{"field":"l","type":"quantitative","title":null,"scale":{"domain":[-0.0088,0.29],"nice":false,"zero":false},"axis":{"orient":"bottom","values":[0,0.1,0.2],"format":".1f","gridWidth":1.1,"labelOverlap":false}},"x2":{"field":"h"},"color":{"condition":{"test":"datum.c=='TRUE'","value":"#00BFC4"},"value":"#F8766D"}}},
{"transform":[{"fold":["l","h"],"as":["k","v"]}],"mark":{"type":"tick","orient":"vertical","size":6,"thickness":1,"opacity":0.55},"encoding":{"x":{"field":"v","type":"quantitative","title":null,"axis":null},"color":{"condition":{"test":"datum.c=='TRUE'","value":"#00BFC4"},"value":"#F8766D"}}},
{"mark":{"type":"point","filled":true,"opacity":1,"size":50},"encoding":{"x":{"field":"x","type":"quantitative","title":null,"axis":{"orient":"top","values":[0.05,0.15,0.25],"labels":false,"ticks":false,"domain":false,"grid":true,"gridWidth":0.55}},"color":{"field":"c","type":"nominal","title":"95% Credible Interval Covers the Truth","scale":{"domain":["FALSE","TRUE"]},"legend":{"orient":"none","legendX":270,"legendY":899,"direction":"horizontal","titleOrient":"left"}}}},
{"data":{"values":[{"p":"BE1","a":-1,"b":2}]},"mark":{"type":"rule","color":"#A3A3A3","strokeWidth":1.1,"strokeDash":[5,4],"clip":true},"encoding":{"x":{"field":"a","type":"quantitative","title":null,"axis":null},"y":{"field":"a","type":"quantitative","title":null},"x2":{"field":"b"},"y2":{"field":"b"}}}
]}]},
{"spacing":0,"bounds":"flush","resolve":{"scale":{"x":"independent","y":"independent","color":"shared"},"legend":{"color":"shared"}},"vconcat":[
{"width":173,"height":30,"data":{"values":[{"t":"Barrier Effects (NSUM)"}]},"mark":{"type":"text","fontSize":15,"color":"#1A1A1A","fontWeight":"normal"},"encoding":{"text":{"field":"t"}},"view":{"fill":"#F2F2F2","stroke":"#333333"}},
{"width":173,"height":30,"data":{"values":[{"t":"P(y_ik =3)"}]},"mark":{"type":"text","fontSize":15,"color":"#1A1A1A","fontWeight":"normal"},"encoding":{"text":{"field":"t"}},"view":{"fill":"#F2F2F2","stroke":"#333333"}},
{"width":173,"height":119,"data":{"name":"d"},"transform":[{"filter":"datum.p=='BE3'"}],"resolve":{"axis":{"x":"independent"}},
"encoding":{"y":{"field":"y","type":"quantitative","title":null,"scale":{"domain":[-0.0099,0.1238],"nice":false,"zero":false},"axis":{"labelOverlap":false,"values":[0,0.02,0.04,0.06,0.08,0.1,0.12],"labelExpr":"abs(datum.value/0.04-round(datum.value/0.04))>0.01?'':format(datum.value,'.2f')","gridWidth":{"condition":{"test":"abs(datum.value/0.04-round(datum.value/0.04))>0.01","value":0.55},"value":1.1},"tickOpacity":{"condition":{"test":"abs(datum.value/0.04-round(datum.value/0.04))>0.01","value":0},"value":1}}}},
"layer":[
{"mark":{"type":"rule","opacity":0.55},"encoding":{"x":{"field":"l","type":"quantitative","title":null,"scale":{"domain":[-0.0074,0.1451],"nice":false,"zero":false},"axis":{"orient":"bottom","values":[0,0.05,0.1],"format":".2f","gridWidth":1.1,"labelOverlap":false}},"x2":{"field":"h"},"color":{"condition":{"test":"datum.c=='TRUE'","value":"#00BFC4"},"value":"#F8766D"}}},
{"transform":[{"fold":["l","h"],"as":["k","v"]}],"mark":{"type":"tick","orient":"vertical","size":6,"thickness":1,"opacity":0.55},"encoding":{"x":{"field":"v","type":"quantitative","title":null,"axis":null},"color":{"condition":{"test":"datum.c=='TRUE'","value":"#00BFC4"},"value":"#F8766D"}}},
{"mark":{"type":"point","filled":true,"opacity":1,"size":50},"encoding":{"x":{"field":"x","type":"quantitative","title":null,"axis":{"orient":"top","values":[0.025,0.075,0.125],"labels":false,"ticks":false,"domain":false,"grid":true,"gridWidth":0.55}},"color":{"field":"c","type":"nominal","title":"95% Credible Interval Covers the Truth","scale":{"domain":["FALSE","TRUE"]},"legend":{"orient":"none","legendX":270,"legendY":899,"direction":"horizontal","titleOrient":"left"}}}},
{"data":{"values":[{"p":"BE3","a":-1,"b":2}]},"mark":{"type":"rule","color":"#A3A3A3","strokeWidth":1.1,"strokeDash":[5,4],"clip":true},"encoding":{"x":{"field":"a","type":"quantitative","title":null,"axis":null},"y":{"field":"a","type":"quantitative","title":null},"x2":{"field":"b"},"y2":{"field":"b"}}}
]}]},
{"spacing":0,"bounds":"flush","resolve":{"scale":{"x":"independent","y":"independent","color":"shared"},"legend":{"color":"shared"}},"vconcat":[
{"width":173,"height":30,"data":{"values":[{"t":"Barrier Effects (NSUM)"}]},"mark":{"type":"text","fontSize":15,"color":"#1A1A1A","fontWeight":"normal"},"encoding":{"text":{"field":"t"}},"view":{"fill":"#F2F2F2","stroke":"#333333"}},
{"width":173,"height":30,"data":{"values":[{"t":"P(y_ik =5)"}]},"mark":{"type":"text","fontSize":15,"color":"#1A1A1A","fontWeight":"normal"},"encoding":{"text":{"field":"t"}},"view":{"fill":"#F2F2F2","stroke":"#333333"}},
{"width":173,"height":119,"data":{"name":"d"},"transform":[{"filter":"datum.p=='BE5'"}],"resolve":{"axis":{"x":"independent"}},
"encoding":{"y":{"field":"y","type":"quantitative","title":null,"scale":{"domain":[-0.0078,0.0897],"nice":false,"zero":false},"axis":{"labelOverlap":false,"values":[0,0.0125,0.025,0.0375,0.05,0.0625,0.075,0.0875],"labelExpr":"abs(datum.value/0.025-round(datum.value/0.025))>0.01?'':format(datum.value,'.3f')","gridWidth":{"condition":{"test":"abs(datum.value/0.025-round(datum.value/0.025))>0.01","value":0.55},"value":1.1},"tickOpacity":{"condition":{"test":"abs(datum.value/0.025-round(datum.value/0.025))>0.01","value":0},"value":1}}}},
"layer":[
{"mark":{"type":"rule","opacity":0.55},"encoding":{"x":{"field":"l","type":"quantitative","title":null,"scale":{"domain":[-0.0045,0.087],"nice":false,"zero":false},"axis":{"orient":"bottom","values":[0,0.02,0.04,0.06,0.08],"format":".2f","gridWidth":1.1,"labelOverlap":false}},"x2":{"field":"h"},"color":{"condition":{"test":"datum.c=='TRUE'","value":"#00BFC4"},"value":"#F8766D"}}},
{"transform":[{"fold":["l","h"],"as":["k","v"]}],"mark":{"type":"tick","orient":"vertical","size":6,"thickness":1,"opacity":0.55},"encoding":{"x":{"field":"v","type":"quantitative","title":null,"axis":null},"color":{"condition":{"test":"datum.c=='TRUE'","value":"#00BFC4"},"value":"#F8766D"}}},
{"mark":{"type":"point","filled":true,"opacity":1,"size":50},"encoding":{"x":{"field":"x","type":"quantitative","title":null,"axis":{"orient":"top","values":[0.01,0.03,0.05,0.07],"labels":false,"ticks":false,"domain":false,"grid":true,"gridWidth":0.55}},"color":{"field":"c","type":"nominal","title":"95% Credible Interval Covers the Truth","scale":{"domain":["FALSE","TRUE"]},"legend":{"orient":"none","legendX":270,"legendY":899,"direction":"horizontal","titleOrient":"left"}}}},
{"data":{"values":[{"p":"BE5","a":-1,"b":2}]},"mark":{"type":"rule","color":"#A3A3A3","strokeWidth":1.1,"strokeDash":[5,4],"clip":true},"encoding":{"x":{"field":"a","type":"quantitative","title":null,"axis":null},"y":{"field":"a","type":"quantitative","title":null},"x2":{"field":"b"},"y2":{"field":"b"}}}
]}]},
{"spacing":0,"bounds":"flush","resolve":{"scale":{"x":"independent","y":"independent","color":"shared"},"legend":{"color":"shared"}},"vconcat":[
{"width":173,"height":30,"data":{"values":[{"t":"Barrier Effects (NSUM)"}]},"mark":{"type":"text","fontSize":15,"color":"#1A1A1A","fontWeight":"normal"},"encoding":{"text":{"field":"t"}},"view":{"fill":"#F2F2F2","stroke":"#333333"}},
{"width":173,"height":30,"data":{"values":[{"t":"P(y_ik =10)"}]},"mark":{"type":"text","fontSize":15,"color":"#1A1A1A","fontWeight":"normal"},"encoding":{"text":{"field":"t"}},"view":{"fill":"#F2F2F2","stroke":"#333333"}},
{"width":173,"height":119,"data":{"name":"d"},"transform":[{"filter":"datum.p=='BE10'"}],"resolve":{"axis":{"x":"independent"}},
"encoding":{"y":{"field":"y","type":"quantitative","title":null,"scale":{"domain":[-0.0035,0.04],"nice":false,"zero":false},"axis":{"labelOverlap":false,"values":[0,0.005,0.01,0.015,0.02,0.025,0.03,0.035,0.04],"labelExpr":"abs(datum.value/0.01-round(datum.value/0.01))>0.01?'':format(datum.value,'.2f')","gridWidth":{"condition":{"test":"abs(datum.value/0.01-round(datum.value/0.01))>0.01","value":0.55},"value":1.1},"tickOpacity":{"condition":{"test":"abs(datum.value/0.01-round(datum.value/0.01))>0.01","value":0},"value":1}}}},
"layer":[
{"mark":{"type":"rule","opacity":0.55},"encoding":{"x":{"field":"l","type":"quantitative","title":null,"scale":{"domain":[-0.002,0.0411],"nice":false,"zero":false},"axis":{"orient":"bottom","values":[0,0.01,0.02,0.03,0.04],"format":".2f","gridWidth":1.1,"labelOverlap":false}},"x2":{"field":"h"},"color":{"condition":{"test":"datum.c=='TRUE'","value":"#00BFC4"},"value":"#F8766D"}}},
{"transform":[{"fold":["l","h"],"as":["k","v"]}],"mark":{"type":"tick","orient":"vertical","size":6,"thickness":1,"opacity":0.55},"encoding":{"x":{"field":"v","type":"quantitative","title":null,"axis":null},"color":{"condition":{"test":"datum.c=='TRUE'","value":"#00BFC4"},"value":"#F8766D"}}},
{"mark":{"type":"point","filled":true,"opacity":1,"size":50},"encoding":{"x":{"field":"x","type":"quantitative","title":null,"axis":{"orient":"top","values":[0.005,0.015,0.025,0.035],"labels":false,"ticks":false,"domain":false,"grid":true,"gridWidth":0.55}},"color":{"field":"c","type":"nominal","title":"95% Credible Interval Covers the Truth","scale":{"domain":["FALSE","TRUE"]},"legend":{"orient":"none","legendX":270,"legendY":899,"direction":"horizontal","titleOrient":"left"}}}},
{"data":{"values":[{"p":"BE10","a":-1,"b":2}]},"mark":{"type":"rule","color":"#A3A3A3","strokeWidth":1.1,"strokeDash":[5,4],"clip":true},"encoding":{"x":{"field":"a","type":"quantitative","title":null,"axis":null},"y":{"field":"a","type":"quantitative","title":null},"x2":{"field":"b"},"y2":{"field":"b"}}}
]}]}
]}],
"config":{
"font":"Liberation Sans",
"view":{"stroke":"#333333","strokeWidth":1},
"range":{"category":["#F8766D","#00BFC4"]},
"axis":{"domain":false,"tickColor":"#333333","tickSize":3.5,"tickWidth":1,"labelColor":"#4D4D4D","labelFontSize":15,"labelPadding":2,"gridColor":"#EBEBEB","labelOverlap":false,"labelFlush":false,"labelBound":false},
"legend":{"titleFontSize":18.5,"titleFontWeight":"normal","titleColor":"#000000","titleLimit":500,"labelFontSize":15,"labelColor":"#1A1A1A","symbolType":"circle","symbolSize":60,"columnPadding":30,"titlePadding":22,"labelOffset":10}
}
}
